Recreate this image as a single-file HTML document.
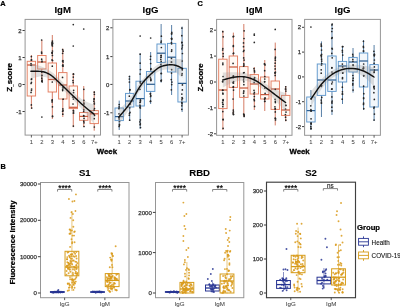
<!DOCTYPE html>
<html><head><meta charset="utf-8"><style>
html,body{margin:0;padding:0;background:#fff;width:400px;height:308px;overflow:hidden}
svg{display:block;font-family:"Liberation Sans", sans-serif;filter:blur(0.35px)}
</style></head><body>
<svg width="400" height="308" viewBox="0 0 400 308" font-family='"Liberation Sans", sans-serif'>
<rect width="400" height="308" fill="#fff"/>
<text x="0.2" y="6.1" font-size="7.4" font-weight="bold" text-anchor="start" fill="#000" stroke="#000" stroke-width="0.22" >A</text>
<text x="197.5" y="6.1" font-size="7.4" font-weight="bold" text-anchor="start" fill="#000" stroke="#000" stroke-width="0.22" >C</text>
<text x="0.5" y="168.8" font-size="7.3" font-weight="bold" text-anchor="start" fill="#000" stroke="#000" stroke-width="0.22" >B</text>
<text x="62.7" y="12.5" font-size="9.6" font-weight="bold" text-anchor="middle" fill="#000" stroke="#000" stroke-width="0.08">IgM</text>
<text x="150.6" y="12.5" font-size="9.6" font-weight="bold" text-anchor="middle" fill="#000" stroke="#000" stroke-width="0.08">IgG</text>
<text x="11.7" y="77.3" font-size="8.0" font-weight="bold" text-anchor="middle" fill="#000" stroke="#000" stroke-width="0.22" transform="rotate(-90 11.7 77.3)" >Z<tspan font-size="4.4" dy="1.0">_</tspan><tspan dy="-1.0">score</tspan></text>
<text x="106.9" y="154.3" font-size="7.8" font-weight="bold" text-anchor="middle" fill="#000" stroke="#000" stroke-width="0.3">Week</text>
<line x1="22.5" y1="30.5" x2="25.1" y2="30.5" stroke="#333" stroke-width="0.95"/>
<text x="21.5" y="32.6" font-size="6.0" font-weight="normal" text-anchor="end" fill="#333" stroke="#333" stroke-width="0.25">2</text>
<line x1="22.5" y1="57.5" x2="25.1" y2="57.5" stroke="#333" stroke-width="0.95"/>
<text x="21.5" y="59.6" font-size="6.0" font-weight="normal" text-anchor="end" fill="#333" stroke="#333" stroke-width="0.25">1</text>
<line x1="22.5" y1="84.5" x2="25.1" y2="84.5" stroke="#333" stroke-width="0.95"/>
<text x="21.5" y="86.6" font-size="6.0" font-weight="normal" text-anchor="end" fill="#333" stroke="#333" stroke-width="0.25">0</text>
<line x1="22.5" y1="111.5" x2="25.1" y2="111.5" stroke="#333" stroke-width="0.95"/>
<text x="21.5" y="113.6" font-size="6.0" font-weight="normal" text-anchor="end" fill="#333" stroke="#333" stroke-width="0.25">-1</text>
<line x1="110.30000000000001" y1="27.8" x2="112.9" y2="27.8" stroke="#333" stroke-width="0.95"/>
<text x="109.30000000000001" y="29.900000000000002" font-size="6.0" font-weight="normal" text-anchor="end" fill="#333" stroke="#333" stroke-width="0.25">2</text>
<line x1="110.30000000000001" y1="56.6" x2="112.9" y2="56.6" stroke="#333" stroke-width="0.95"/>
<text x="109.30000000000001" y="58.7" font-size="6.0" font-weight="normal" text-anchor="end" fill="#333" stroke="#333" stroke-width="0.25">1</text>
<line x1="110.30000000000001" y1="84.4" x2="112.9" y2="84.4" stroke="#333" stroke-width="0.95"/>
<text x="109.30000000000001" y="86.5" font-size="6.0" font-weight="normal" text-anchor="end" fill="#333" stroke="#333" stroke-width="0.25">0</text>
<line x1="110.30000000000001" y1="112.8" x2="112.9" y2="112.8" stroke="#333" stroke-width="0.95"/>
<text x="109.30000000000001" y="114.89999999999999" font-size="6.0" font-weight="normal" text-anchor="end" fill="#333" stroke="#333" stroke-width="0.25">-1</text>
<rect x="25.1" y="19.4" width="75.4" height="115.69999999999999" fill="#fff" stroke="#969696" stroke-width="1"/>
<line x1="31.383333333333336" y1="55" x2="31.383333333333336" y2="61.3" stroke="#c95a3e" stroke-width="0.8"/>
<line x1="31.383333333333336" y1="96" x2="31.383333333333336" y2="109" stroke="#c95a3e" stroke-width="0.8"/>
<rect x="27.183333333333337" y="61.3" width="8.4" height="34.7" fill="#fffaf5" stroke="#dd5f3c" stroke-opacity="0.8" stroke-width="0.95"/>
<line x1="27.183333333333337" y1="65" x2="35.583333333333336" y2="65" stroke="#c95a3e" stroke-width="1.25"/>
<line x1="41.855555555555554" y1="40" x2="41.855555555555554" y2="55.5" stroke="#c95a3e" stroke-width="0.8"/>
<line x1="41.855555555555554" y1="69" x2="41.855555555555554" y2="82" stroke="#c95a3e" stroke-width="0.8"/>
<rect x="37.65555555555555" y="55.5" width="8.4" height="13.5" fill="#fffaf5" stroke="#dd5f3c" stroke-opacity="0.8" stroke-width="0.95"/>
<line x1="37.65555555555555" y1="62" x2="46.05555555555556" y2="62" stroke="#c95a3e" stroke-width="1.25"/>
<line x1="52.32777777777778" y1="35" x2="52.32777777777778" y2="63" stroke="#c95a3e" stroke-width="0.8"/>
<line x1="52.32777777777778" y1="92" x2="52.32777777777778" y2="119" stroke="#c95a3e" stroke-width="0.8"/>
<rect x="48.12777777777778" y="63" width="8.4" height="29" fill="#fffaf5" stroke="#dd5f3c" stroke-opacity="0.8" stroke-width="0.95"/>
<line x1="48.12777777777778" y1="79.5" x2="56.527777777777786" y2="79.5" stroke="#c95a3e" stroke-width="1.25"/>
<line x1="62.800000000000004" y1="48.6" x2="62.800000000000004" y2="72.6" stroke="#c95a3e" stroke-width="0.8"/>
<line x1="62.800000000000004" y1="99" x2="62.800000000000004" y2="117" stroke="#c95a3e" stroke-width="0.8"/>
<rect x="58.6" y="72.6" width="8.4" height="26.400000000000006" fill="#fffaf5" stroke="#dd5f3c" stroke-opacity="0.8" stroke-width="0.95"/>
<line x1="58.6" y1="85" x2="67.0" y2="85" stroke="#c95a3e" stroke-width="1.25"/>
<line x1="73.27222222222223" y1="73" x2="73.27222222222223" y2="86" stroke="#c95a3e" stroke-width="0.8"/>
<line x1="73.27222222222223" y1="108.6" x2="73.27222222222223" y2="127.2" stroke="#c95a3e" stroke-width="0.8"/>
<rect x="69.07222222222222" y="86" width="8.4" height="22.599999999999994" fill="#fffaf5" stroke="#dd5f3c" stroke-opacity="0.8" stroke-width="0.95"/>
<line x1="69.07222222222222" y1="107.3" x2="77.47222222222223" y2="107.3" stroke="#c95a3e" stroke-width="1.25"/>
<line x1="83.74444444444444" y1="86" x2="83.74444444444444" y2="112.5" stroke="#c95a3e" stroke-width="0.8"/>
<line x1="83.74444444444444" y1="120.3" x2="83.74444444444444" y2="126.8" stroke="#c95a3e" stroke-width="0.8"/>
<rect x="79.54444444444444" y="112.5" width="8.4" height="7.799999999999997" fill="#fffaf5" stroke="#dd5f3c" stroke-opacity="0.8" stroke-width="0.95"/>
<line x1="79.54444444444444" y1="116.4" x2="87.94444444444444" y2="116.4" stroke="#c95a3e" stroke-width="1.25"/>
<line x1="94.21666666666667" y1="91" x2="94.21666666666667" y2="110.6" stroke="#c95a3e" stroke-width="0.8"/>
<line x1="94.21666666666667" y1="123.6" x2="94.21666666666667" y2="130.7" stroke="#c95a3e" stroke-width="0.8"/>
<rect x="90.01666666666667" y="110.6" width="8.4" height="13.0" fill="#fffaf5" stroke="#dd5f3c" stroke-opacity="0.8" stroke-width="0.95"/>
<line x1="90.01666666666667" y1="113.8" x2="98.41666666666667" y2="113.8" stroke="#c95a3e" stroke-width="1.25"/>
<circle cx="31.43" cy="79.4" r="0.85" fill="#262626"/>
<circle cx="31.36" cy="104.9" r="0.85" fill="#262626"/>
<circle cx="31.44" cy="82.4" r="0.85" fill="#262626"/>
<circle cx="31.39" cy="65.0" r="0.85" fill="#262626"/>
<circle cx="31.59" cy="89.0" r="0.85" fill="#262626"/>
<circle cx="31.25" cy="60.1" r="0.85" fill="#262626"/>
<circle cx="31.60" cy="59.9" r="0.85" fill="#262626"/>
<circle cx="31.06" cy="92.4" r="0.85" fill="#262626"/>
<circle cx="31.71" cy="108.0" r="0.85" fill="#262626"/>
<circle cx="31.46" cy="90.3" r="0.85" fill="#262626"/>
<circle cx="31.04" cy="63.5" r="0.85" fill="#262626"/>
<circle cx="31.08" cy="83.5" r="0.85" fill="#262626"/>
<circle cx="31.20" cy="65.3" r="0.85" fill="#262626"/>
<circle cx="31.36" cy="56.6" r="0.85" fill="#262626"/>
<circle cx="31.62" cy="78.8" r="0.85" fill="#262626"/>
<circle cx="41.95" cy="61.8" r="0.85" fill="#262626"/>
<circle cx="41.97" cy="61.0" r="0.85" fill="#262626"/>
<circle cx="41.70" cy="59.2" r="0.85" fill="#262626"/>
<circle cx="42.20" cy="81.9" r="0.85" fill="#262626"/>
<circle cx="42.00" cy="75.3" r="0.85" fill="#262626"/>
<circle cx="41.67" cy="53.2" r="0.85" fill="#262626"/>
<circle cx="41.55" cy="52.1" r="0.85" fill="#262626"/>
<circle cx="41.79" cy="72.2" r="0.85" fill="#262626"/>
<circle cx="41.78" cy="75.6" r="0.85" fill="#262626"/>
<circle cx="42.10" cy="80.2" r="0.85" fill="#262626"/>
<circle cx="41.65" cy="40.0" r="0.85" fill="#262626"/>
<circle cx="41.83" cy="78.2" r="0.85" fill="#262626"/>
<circle cx="41.78" cy="81.2" r="0.85" fill="#262626"/>
<circle cx="41.86" cy="117" r="0.85" fill="#2a2a2a"/>
<circle cx="52.42" cy="41.1" r="0.85" fill="#262626"/>
<circle cx="52.17" cy="100.4" r="0.85" fill="#262626"/>
<circle cx="52.21" cy="42.3" r="0.85" fill="#262626"/>
<circle cx="52.51" cy="116.0" r="0.85" fill="#262626"/>
<circle cx="52.15" cy="44.9" r="0.85" fill="#262626"/>
<circle cx="52.02" cy="43.5" r="0.85" fill="#262626"/>
<circle cx="52.10" cy="101.9" r="0.85" fill="#262626"/>
<circle cx="52.29" cy="82.0" r="0.85" fill="#262626"/>
<circle cx="52.49" cy="51.0" r="0.85" fill="#262626"/>
<circle cx="52.43" cy="46.0" r="0.85" fill="#262626"/>
<circle cx="52.27" cy="44.8" r="0.85" fill="#262626"/>
<circle cx="52.17" cy="52.9" r="0.85" fill="#262626"/>
<circle cx="52.54" cy="116.6" r="0.85" fill="#262626"/>
<circle cx="52.60" cy="60.5" r="0.85" fill="#262626"/>
<circle cx="52.25" cy="52.7" r="0.85" fill="#262626"/>
<circle cx="52.43" cy="106.8" r="0.85" fill="#262626"/>
<circle cx="52.67" cy="43.4" r="0.85" fill="#262626"/>
<circle cx="52.16" cy="52.9" r="0.85" fill="#262626"/>
<circle cx="52.21" cy="99.9" r="0.85" fill="#262626"/>
<circle cx="52.03" cy="59.9" r="0.85" fill="#262626"/>
<circle cx="52.39" cy="42.6" r="0.85" fill="#262626"/>
<circle cx="52.40" cy="55.4" r="0.85" fill="#262626"/>
<circle cx="52.30" cy="66.2" r="0.85" fill="#262626"/>
<circle cx="62.79" cy="114.2" r="0.85" fill="#262626"/>
<circle cx="63.06" cy="87.9" r="0.85" fill="#262626"/>
<circle cx="62.56" cy="61.1" r="0.85" fill="#262626"/>
<circle cx="63.02" cy="110.7" r="0.85" fill="#262626"/>
<circle cx="62.58" cy="65.7" r="0.85" fill="#262626"/>
<circle cx="63.11" cy="99.2" r="0.85" fill="#262626"/>
<circle cx="63.12" cy="62.0" r="0.85" fill="#262626"/>
<circle cx="62.87" cy="108.9" r="0.85" fill="#262626"/>
<circle cx="62.52" cy="77.4" r="0.85" fill="#262626"/>
<circle cx="63.12" cy="51.2" r="0.85" fill="#262626"/>
<circle cx="62.94" cy="64.9" r="0.85" fill="#262626"/>
<circle cx="63.03" cy="66.2" r="0.85" fill="#262626"/>
<circle cx="62.66" cy="89.4" r="0.85" fill="#262626"/>
<circle cx="62.95" cy="60.6" r="0.85" fill="#262626"/>
<circle cx="62.61" cy="53.3" r="0.85" fill="#262626"/>
<circle cx="63.05" cy="86.9" r="0.85" fill="#262626"/>
<circle cx="62.65" cy="90.6" r="0.85" fill="#262626"/>
<circle cx="62.59" cy="111.3" r="0.85" fill="#262626"/>
<circle cx="62.64" cy="49.7" r="0.85" fill="#262626"/>
<circle cx="72.96" cy="97.2" r="0.85" fill="#262626"/>
<circle cx="73.18" cy="82.6" r="0.85" fill="#262626"/>
<circle cx="73.01" cy="104.0" r="0.85" fill="#262626"/>
<circle cx="73.55" cy="92.6" r="0.85" fill="#262626"/>
<circle cx="73.38" cy="126.1" r="0.85" fill="#262626"/>
<circle cx="73.33" cy="110.5" r="0.85" fill="#262626"/>
<circle cx="72.95" cy="80.6" r="0.85" fill="#262626"/>
<circle cx="73.56" cy="74.0" r="0.85" fill="#262626"/>
<circle cx="73.60" cy="111.0" r="0.85" fill="#262626"/>
<circle cx="73.37" cy="74.2" r="0.85" fill="#262626"/>
<circle cx="73.43" cy="99.1" r="0.85" fill="#262626"/>
<circle cx="73.62" cy="90.3" r="0.85" fill="#262626"/>
<circle cx="73.30" cy="77.1" r="0.85" fill="#262626"/>
<circle cx="73.55" cy="112.9" r="0.85" fill="#262626"/>
<circle cx="73.41" cy="113.0" r="0.85" fill="#262626"/>
<circle cx="73.27" cy="24.6" r="0.85" fill="#2a2a2a"/>
<circle cx="73.27" cy="46" r="0.85" fill="#2a2a2a"/>
<circle cx="84.03" cy="118.4" r="0.85" fill="#262626"/>
<circle cx="83.87" cy="100.4" r="0.85" fill="#262626"/>
<circle cx="84.00" cy="122.8" r="0.85" fill="#262626"/>
<circle cx="83.95" cy="103.0" r="0.85" fill="#262626"/>
<circle cx="83.80" cy="121.2" r="0.85" fill="#262626"/>
<circle cx="83.66" cy="111.5" r="0.85" fill="#262626"/>
<circle cx="83.82" cy="109.8" r="0.85" fill="#262626"/>
<circle cx="83.84" cy="89.3" r="0.85" fill="#262626"/>
<circle cx="84.01" cy="126.5" r="0.85" fill="#262626"/>
<circle cx="83.67" cy="115.7" r="0.85" fill="#262626"/>
<circle cx="83.80" cy="116.0" r="0.85" fill="#262626"/>
<circle cx="83.98" cy="104.0" r="0.85" fill="#262626"/>
<circle cx="83.74" cy="29" r="0.85" fill="#2a2a2a"/>
<circle cx="94.39" cy="94.3" r="0.85" fill="#262626"/>
<circle cx="94.29" cy="92.2" r="0.85" fill="#262626"/>
<circle cx="94.03" cy="110.1" r="0.85" fill="#262626"/>
<circle cx="94.21" cy="118.7" r="0.85" fill="#262626"/>
<circle cx="94.51" cy="115.4" r="0.85" fill="#262626"/>
<circle cx="93.87" cy="101.2" r="0.85" fill="#262626"/>
<circle cx="94.34" cy="103.0" r="0.85" fill="#262626"/>
<circle cx="93.99" cy="99.0" r="0.85" fill="#262626"/>
<circle cx="94.33" cy="127.0" r="0.85" fill="#262626"/>
<circle cx="94.49" cy="108.5" r="0.85" fill="#262626"/>
<circle cx="94.33" cy="104.0" r="0.85" fill="#262626"/>
<circle cx="94.17" cy="98.9" r="0.85" fill="#262626"/>
<polygon points="30.90,63.80 32.04,64.06 33.62,64.39 35.49,64.79 37.50,65.28 39.52,65.85 41.40,66.50 43.16,67.23 44.93,68.03 46.69,68.91 48.46,69.89 50.23,70.98 52.00,72.20 53.77,73.59 55.53,75.15 57.30,76.82 59.07,78.55 60.83,80.30 62.60,82.00 64.37,83.70 66.14,85.45 67.91,87.21 69.67,88.94 71.44,90.62 73.20,92.20 74.96,93.71 76.71,95.19 78.46,96.61 80.21,97.94 81.96,99.18 83.70,100.30 85.56,101.31 87.56,102.23 89.56,103.06 91.41,103.77 92.97,104.35 94.10,104.80 94.10,123.80 92.97,122.43 91.41,120.52 89.56,118.27 87.56,115.86 85.56,113.47 83.70,111.30 81.96,109.31 80.21,107.34 78.46,105.41 76.71,103.50 74.96,101.63 73.20,99.80 71.44,98.02 69.67,96.29 67.91,94.59 66.14,92.92 64.37,91.26 62.60,89.60 60.83,87.87 59.07,86.06 57.30,84.27 55.53,82.57 53.77,81.05 52.00,79.80 50.23,78.81 48.46,78.01 46.69,77.39 44.93,76.94 43.16,76.65 41.40,76.50 39.52,76.59 37.50,76.94 35.49,77.44 33.62,78.00 32.04,78.48 30.90,78.80" fill="#9a9a9a" opacity="0.3"/>
<path d="M30.90,71.30 L31.59,71.30 L32.56,71.29 L33.69,71.29 L34.88,71.29 L36.00,71.30 L37.07,71.31 L38.18,71.32 L39.28,71.35 L40.37,71.40 L41.40,71.50 L42.35,71.63 L43.23,71.76 L44.10,71.95 L45.00,72.22 L46.00,72.60 L47.13,73.12 L48.35,73.74 L49.60,74.45 L50.84,75.21 L52.00,76.00 L53.05,76.82 L54.04,77.68 L55.00,78.59 L55.98,79.53 L57.00,80.50 L58.00,81.43 L58.96,82.33 L59.97,83.29 L61.15,84.41 L62.60,85.80 L64.40,87.53 L66.48,89.55 L68.73,91.71 L71.01,93.91 L73.20,96.00 L75.31,98.01 L77.41,100.01 L79.51,101.99 L81.61,103.93 L83.70,105.80 L85.95,107.72 L88.37,109.70 L90.69,111.57 L92.69,113.16 L94.10,114.30" fill="none" stroke="#111" stroke-width="1.45" stroke-linejoin="round" stroke-linecap="round"/>
<line x1="31.383333333333336" y1="135.1" x2="31.383333333333336" y2="137.5" stroke="#333" stroke-width="0.8"/>
<text x="31.383333333333336" y="143.5" font-size="5.8" font-weight="normal" text-anchor="middle" fill="#444" stroke="#444" stroke-width="0.05">1</text>
<line x1="41.855555555555554" y1="135.1" x2="41.855555555555554" y2="137.5" stroke="#333" stroke-width="0.8"/>
<text x="41.855555555555554" y="143.5" font-size="5.8" font-weight="normal" text-anchor="middle" fill="#444" stroke="#444" stroke-width="0.05">2</text>
<line x1="52.32777777777778" y1="135.1" x2="52.32777777777778" y2="137.5" stroke="#333" stroke-width="0.8"/>
<text x="52.32777777777778" y="143.5" font-size="5.8" font-weight="normal" text-anchor="middle" fill="#444" stroke="#444" stroke-width="0.05">3</text>
<line x1="62.800000000000004" y1="135.1" x2="62.800000000000004" y2="137.5" stroke="#333" stroke-width="0.8"/>
<text x="62.800000000000004" y="143.5" font-size="5.8" font-weight="normal" text-anchor="middle" fill="#444" stroke="#444" stroke-width="0.05">4</text>
<line x1="73.27222222222223" y1="135.1" x2="73.27222222222223" y2="137.5" stroke="#333" stroke-width="0.8"/>
<text x="73.27222222222223" y="143.5" font-size="5.8" font-weight="normal" text-anchor="middle" fill="#444" stroke="#444" stroke-width="0.05">5</text>
<line x1="83.74444444444444" y1="135.1" x2="83.74444444444444" y2="137.5" stroke="#333" stroke-width="0.8"/>
<text x="83.74444444444444" y="143.5" font-size="5.8" font-weight="normal" text-anchor="middle" fill="#444" stroke="#444" stroke-width="0.05">6</text>
<line x1="94.21666666666667" y1="135.1" x2="94.21666666666667" y2="137.5" stroke="#333" stroke-width="0.8"/>
<text x="94.21666666666667" y="143.5" font-size="5.8" font-weight="normal" text-anchor="middle" fill="#444" stroke="#444" stroke-width="0.05">7+</text>
<rect x="112.9" y="19.4" width="75.5" height="115.69999999999999" fill="#fff" stroke="#969696" stroke-width="1"/>
<line x1="119.19166666666668" y1="100.6" x2="119.19166666666668" y2="108" stroke="#2f5f90" stroke-width="0.8"/>
<line x1="119.19166666666668" y1="120.6" x2="119.19166666666668" y2="130" stroke="#2f5f90" stroke-width="0.8"/>
<rect x="114.99166666666667" y="108" width="8.4" height="12.599999999999994" fill="#f3f7fb" stroke="#3b7fc0" stroke-opacity="0.8" stroke-width="0.95"/>
<line x1="114.99166666666667" y1="116.6" x2="123.39166666666668" y2="116.6" stroke="#2f5f90" stroke-width="1.25"/>
<line x1="129.67777777777778" y1="75.6" x2="129.67777777777778" y2="93.4" stroke="#2f5f90" stroke-width="0.8"/>
<line x1="129.67777777777778" y1="107" x2="129.67777777777778" y2="121" stroke="#2f5f90" stroke-width="0.8"/>
<rect x="125.47777777777777" y="93.4" width="8.4" height="13.599999999999994" fill="#f3f7fb" stroke="#3b7fc0" stroke-opacity="0.8" stroke-width="0.95"/>
<line x1="125.47777777777777" y1="101" x2="133.87777777777777" y2="101" stroke="#2f5f90" stroke-width="1.25"/>
<line x1="140.1638888888889" y1="53.4" x2="140.1638888888889" y2="81.2" stroke="#2f5f90" stroke-width="0.8"/>
<line x1="140.1638888888889" y1="106" x2="140.1638888888889" y2="129" stroke="#2f5f90" stroke-width="0.8"/>
<rect x="135.9638888888889" y="81.2" width="8.4" height="24.799999999999997" fill="#f3f7fb" stroke="#3b7fc0" stroke-opacity="0.8" stroke-width="0.95"/>
<line x1="135.9638888888889" y1="98.6" x2="144.36388888888888" y2="98.6" stroke="#2f5f90" stroke-width="1.25"/>
<line x1="150.65" y1="52" x2="150.65" y2="71.5" stroke="#2f5f90" stroke-width="0.8"/>
<line x1="150.65" y1="91.4" x2="150.65" y2="104" stroke="#2f5f90" stroke-width="0.8"/>
<rect x="146.45000000000002" y="71.5" width="8.4" height="19.900000000000006" fill="#f3f7fb" stroke="#3b7fc0" stroke-opacity="0.8" stroke-width="0.95"/>
<line x1="146.45000000000002" y1="84.3" x2="154.85" y2="84.3" stroke="#2f5f90" stroke-width="1.25"/>
<line x1="161.13611111111112" y1="24" x2="161.13611111111112" y2="44" stroke="#2f5f90" stroke-width="0.8"/>
<line x1="161.13611111111112" y1="62.5" x2="161.13611111111112" y2="82.6" stroke="#2f5f90" stroke-width="0.8"/>
<rect x="156.93611111111113" y="44" width="8.4" height="18.5" fill="#f3f7fb" stroke="#3b7fc0" stroke-opacity="0.8" stroke-width="0.95"/>
<line x1="156.93611111111113" y1="53.2" x2="165.3361111111111" y2="53.2" stroke="#2f5f90" stroke-width="1.25"/>
<line x1="171.6222222222222" y1="25" x2="171.6222222222222" y2="43.4" stroke="#2f5f90" stroke-width="0.8"/>
<line x1="171.6222222222222" y1="72" x2="171.6222222222222" y2="95" stroke="#2f5f90" stroke-width="0.8"/>
<rect x="167.42222222222222" y="43.4" width="8.4" height="28.6" fill="#f3f7fb" stroke="#3b7fc0" stroke-opacity="0.8" stroke-width="0.95"/>
<line x1="167.42222222222222" y1="57.2" x2="175.8222222222222" y2="57.2" stroke="#2f5f90" stroke-width="1.25"/>
<line x1="182.10833333333335" y1="26.6" x2="182.10833333333335" y2="68.3" stroke="#2f5f90" stroke-width="0.8"/>
<line x1="182.10833333333335" y1="102" x2="182.10833333333335" y2="112" stroke="#2f5f90" stroke-width="0.8"/>
<rect x="177.90833333333336" y="68.3" width="8.4" height="33.7" fill="#f3f7fb" stroke="#3b7fc0" stroke-opacity="0.8" stroke-width="0.95"/>
<line x1="177.90833333333336" y1="83.4" x2="186.30833333333334" y2="83.4" stroke="#2f5f90" stroke-width="1.25"/>
<circle cx="119.48" cy="124.3" r="0.85" fill="#262626"/>
<circle cx="119.11" cy="126.5" r="0.85" fill="#262626"/>
<circle cx="119.06" cy="117.7" r="0.85" fill="#262626"/>
<circle cx="119.19" cy="104.6" r="0.85" fill="#262626"/>
<circle cx="119.44" cy="125.2" r="0.85" fill="#262626"/>
<circle cx="119.51" cy="121.5" r="0.85" fill="#262626"/>
<circle cx="118.96" cy="108.7" r="0.85" fill="#262626"/>
<circle cx="119.03" cy="113.8" r="0.85" fill="#262626"/>
<circle cx="119.13" cy="106.9" r="0.85" fill="#262626"/>
<circle cx="119.19" cy="119.0" r="0.85" fill="#262626"/>
<circle cx="129.92" cy="89.9" r="0.85" fill="#262626"/>
<circle cx="129.64" cy="120.2" r="0.85" fill="#262626"/>
<circle cx="129.35" cy="79.0" r="0.85" fill="#262626"/>
<circle cx="129.36" cy="115.2" r="0.85" fill="#262626"/>
<circle cx="129.73" cy="107.8" r="0.85" fill="#262626"/>
<circle cx="129.88" cy="89.6" r="0.85" fill="#262626"/>
<circle cx="129.42" cy="76.5" r="0.85" fill="#262626"/>
<circle cx="129.35" cy="96.2" r="0.85" fill="#262626"/>
<circle cx="129.49" cy="113.3" r="0.85" fill="#262626"/>
<circle cx="129.36" cy="82.0" r="0.85" fill="#262626"/>
<circle cx="129.64" cy="104.2" r="0.85" fill="#262626"/>
<circle cx="129.79" cy="104.2" r="0.85" fill="#262626"/>
<circle cx="130.00" cy="112.3" r="0.85" fill="#262626"/>
<circle cx="139.95" cy="105.1" r="0.85" fill="#262626"/>
<circle cx="139.94" cy="89.3" r="0.85" fill="#262626"/>
<circle cx="140.14" cy="54.2" r="0.85" fill="#262626"/>
<circle cx="139.94" cy="107.4" r="0.85" fill="#262626"/>
<circle cx="140.06" cy="74.0" r="0.85" fill="#262626"/>
<circle cx="140.18" cy="106.1" r="0.85" fill="#262626"/>
<circle cx="140.34" cy="99.9" r="0.85" fill="#262626"/>
<circle cx="140.37" cy="83.1" r="0.85" fill="#262626"/>
<circle cx="139.87" cy="121.9" r="0.85" fill="#262626"/>
<circle cx="140.32" cy="123.9" r="0.85" fill="#262626"/>
<circle cx="140.13" cy="63.2" r="0.85" fill="#262626"/>
<circle cx="140.45" cy="100.7" r="0.85" fill="#262626"/>
<circle cx="140.21" cy="81.9" r="0.85" fill="#262626"/>
<circle cx="140.37" cy="119.9" r="0.85" fill="#262626"/>
<circle cx="140.14" cy="124.8" r="0.85" fill="#262626"/>
<circle cx="139.96" cy="102.6" r="0.85" fill="#262626"/>
<circle cx="140.39" cy="108.0" r="0.85" fill="#262626"/>
<circle cx="140.32" cy="101.9" r="0.85" fill="#262626"/>
<circle cx="140.44" cy="69.5" r="0.85" fill="#262626"/>
<circle cx="140.50" cy="127.5" r="0.85" fill="#262626"/>
<circle cx="140.16" cy="36" r="0.85" fill="#2a2a2a"/>
<circle cx="150.85" cy="79.9" r="0.85" fill="#262626"/>
<circle cx="150.94" cy="68.7" r="0.85" fill="#262626"/>
<circle cx="150.54" cy="96.5" r="0.85" fill="#262626"/>
<circle cx="150.61" cy="56.3" r="0.85" fill="#262626"/>
<circle cx="150.84" cy="80.6" r="0.85" fill="#262626"/>
<circle cx="150.32" cy="77.3" r="0.85" fill="#262626"/>
<circle cx="150.34" cy="94.1" r="0.85" fill="#262626"/>
<circle cx="150.42" cy="93.6" r="0.85" fill="#262626"/>
<circle cx="150.85" cy="69.4" r="0.85" fill="#262626"/>
<circle cx="150.40" cy="59.3" r="0.85" fill="#262626"/>
<circle cx="150.81" cy="78.9" r="0.85" fill="#262626"/>
<circle cx="150.78" cy="95.7" r="0.85" fill="#262626"/>
<circle cx="150.64" cy="101.2" r="0.85" fill="#262626"/>
<circle cx="150.36" cy="101.4" r="0.85" fill="#262626"/>
<circle cx="150.67" cy="63.5" r="0.85" fill="#262626"/>
<circle cx="150.65" cy="38" r="0.85" fill="#2a2a2a"/>
<circle cx="161.30" cy="41.0" r="0.85" fill="#262626"/>
<circle cx="161.15" cy="61.4" r="0.85" fill="#262626"/>
<circle cx="161.18" cy="73.4" r="0.85" fill="#262626"/>
<circle cx="161.05" cy="42.3" r="0.85" fill="#262626"/>
<circle cx="161.42" cy="73.5" r="0.85" fill="#262626"/>
<circle cx="161.38" cy="36.2" r="0.85" fill="#262626"/>
<circle cx="161.15" cy="80.8" r="0.85" fill="#262626"/>
<circle cx="160.93" cy="57.6" r="0.85" fill="#262626"/>
<circle cx="161.14" cy="55.4" r="0.85" fill="#262626"/>
<circle cx="160.81" cy="59.5" r="0.85" fill="#262626"/>
<circle cx="161.15" cy="80.8" r="0.85" fill="#262626"/>
<circle cx="161.35" cy="47.5" r="0.85" fill="#262626"/>
<circle cx="161.13" cy="57.0" r="0.85" fill="#262626"/>
<circle cx="160.83" cy="64.5" r="0.85" fill="#262626"/>
<circle cx="161.08" cy="55.6" r="0.85" fill="#262626"/>
<circle cx="161.43" cy="80.1" r="0.85" fill="#262626"/>
<circle cx="171.60" cy="43.8" r="0.85" fill="#262626"/>
<circle cx="171.58" cy="33.9" r="0.85" fill="#262626"/>
<circle cx="171.90" cy="82.1" r="0.85" fill="#262626"/>
<circle cx="171.49" cy="58.4" r="0.85" fill="#262626"/>
<circle cx="171.70" cy="38.4" r="0.85" fill="#262626"/>
<circle cx="171.36" cy="89.8" r="0.85" fill="#262626"/>
<circle cx="171.29" cy="79.6" r="0.85" fill="#262626"/>
<circle cx="171.43" cy="38.6" r="0.85" fill="#262626"/>
<circle cx="171.50" cy="73.1" r="0.85" fill="#262626"/>
<circle cx="171.71" cy="49.9" r="0.85" fill="#262626"/>
<circle cx="171.78" cy="32.3" r="0.85" fill="#262626"/>
<circle cx="171.63" cy="33.6" r="0.85" fill="#262626"/>
<circle cx="171.41" cy="42.5" r="0.85" fill="#262626"/>
<circle cx="171.58" cy="62.1" r="0.85" fill="#262626"/>
<circle cx="171.56" cy="51.3" r="0.85" fill="#262626"/>
<circle cx="171.38" cy="62.1" r="0.85" fill="#262626"/>
<circle cx="171.71" cy="39.3" r="0.85" fill="#262626"/>
<circle cx="171.64" cy="69.7" r="0.85" fill="#262626"/>
<circle cx="171.70" cy="84.6" r="0.85" fill="#262626"/>
<circle cx="181.92" cy="99.8" r="0.85" fill="#262626"/>
<circle cx="182.33" cy="89.9" r="0.85" fill="#262626"/>
<circle cx="181.98" cy="103.7" r="0.85" fill="#262626"/>
<circle cx="182.40" cy="53.5" r="0.85" fill="#262626"/>
<circle cx="182.46" cy="45.2" r="0.85" fill="#262626"/>
<circle cx="181.85" cy="102.4" r="0.85" fill="#262626"/>
<circle cx="182.27" cy="47.0" r="0.85" fill="#262626"/>
<circle cx="181.83" cy="48.8" r="0.85" fill="#262626"/>
<circle cx="182.05" cy="97.7" r="0.85" fill="#262626"/>
<circle cx="181.85" cy="94.1" r="0.85" fill="#262626"/>
<circle cx="182.24" cy="61.0" r="0.85" fill="#262626"/>
<circle cx="181.90" cy="28.1" r="0.85" fill="#262626"/>
<circle cx="182.40" cy="84.9" r="0.85" fill="#262626"/>
<circle cx="181.84" cy="109.3" r="0.85" fill="#262626"/>
<circle cx="182.29" cy="69.8" r="0.85" fill="#262626"/>
<circle cx="182.24" cy="69.5" r="0.85" fill="#262626"/>
<circle cx="181.81" cy="42.7" r="0.85" fill="#262626"/>
<circle cx="181.78" cy="35.7" r="0.85" fill="#262626"/>
<circle cx="182.12" cy="73.7" r="0.85" fill="#262626"/>
<circle cx="181.86" cy="75.2" r="0.85" fill="#262626"/>
<circle cx="181.90" cy="42.4" r="0.85" fill="#262626"/>
<circle cx="182.45" cy="98.4" r="0.85" fill="#262626"/>
<circle cx="181.83" cy="105.8" r="0.85" fill="#262626"/>
<polygon points="118.90,109.50 120.05,108.42 121.65,106.99 123.54,105.27 125.58,103.32 127.62,101.21 129.50,99.00 131.26,96.56 133.03,93.82 134.79,90.91 136.54,87.99 138.28,85.21 140.00,82.70 141.70,80.47 143.37,78.38 145.03,76.43 146.69,74.60 148.34,72.86 150.00,71.20 151.64,69.62 153.26,68.12 154.88,66.73 156.52,65.43 158.22,64.26 160.00,63.20 161.90,62.27 163.90,61.46 165.96,60.77 168.03,60.18 170.06,59.69 172.00,59.30 173.97,59.04 176.03,58.92 178.05,58.91 179.90,58.94 181.46,58.99 182.60,59.00 182.60,78.00 181.46,77.07 179.90,75.70 178.05,74.12 176.03,72.54 173.97,71.20 172.00,70.30 170.06,69.82 168.03,69.58 165.96,69.57 163.90,69.77 161.90,70.19 160.00,70.80 158.22,71.66 156.52,72.78 154.88,74.11 153.26,75.60 151.64,77.18 150.00,78.80 148.34,80.43 146.69,82.11 145.03,83.88 143.37,85.80 141.70,87.93 140.00,90.30 138.28,93.04 136.54,96.12 134.79,99.40 133.03,102.74 131.26,105.99 129.50,109.00 127.62,111.95 125.58,114.98 123.54,117.92 121.65,120.60 120.05,122.85 118.90,124.50" fill="#9a9a9a" opacity="0.3"/>
<path d="M118.90,117.00 L119.59,116.20 L120.55,115.08 L121.69,113.76 L122.87,112.36 L124.00,111.00 L125.07,109.70 L126.17,108.37 L127.28,106.99 L128.39,105.54 L129.50,104.00 L130.61,102.32 L131.72,100.52 L132.84,98.66 L133.93,96.80 L135.00,95.00 L136.03,93.24 L137.04,91.47 L138.02,89.73 L139.01,88.06 L140.00,86.50 L141.00,85.05 L142.00,83.68 L143.00,82.40 L144.00,81.17 L145.00,80.00 L146.00,78.90 L147.00,77.87 L148.00,76.89 L149.00,75.94 L150.00,75.00 L151.00,74.05 L152.00,73.12 L153.00,72.20 L154.00,71.33 L155.00,70.50 L155.98,69.71 L156.95,68.95 L157.93,68.23 L158.94,67.58 L160.00,67.00 L161.14,66.51 L162.33,66.09 L163.55,65.74 L164.78,65.44 L166.00,65.20 L167.22,65.01 L168.45,64.87 L169.67,64.79 L170.86,64.77 L172.00,64.80 L173.05,64.88 L174.04,65.02 L175.00,65.21 L175.98,65.47 L177.00,65.80 L178.17,66.27 L179.47,66.89 L180.73,67.53 L181.83,68.11 L182.60,68.50" fill="none" stroke="#111" stroke-width="1.45" stroke-linejoin="round" stroke-linecap="round"/>
<line x1="119.19166666666668" y1="135.1" x2="119.19166666666668" y2="137.5" stroke="#333" stroke-width="0.8"/>
<text x="119.19166666666668" y="143.5" font-size="5.8" font-weight="normal" text-anchor="middle" fill="#444" stroke="#444" stroke-width="0.05">1</text>
<line x1="129.67777777777778" y1="135.1" x2="129.67777777777778" y2="137.5" stroke="#333" stroke-width="0.8"/>
<text x="129.67777777777778" y="143.5" font-size="5.8" font-weight="normal" text-anchor="middle" fill="#444" stroke="#444" stroke-width="0.05">2</text>
<line x1="140.1638888888889" y1="135.1" x2="140.1638888888889" y2="137.5" stroke="#333" stroke-width="0.8"/>
<text x="140.1638888888889" y="143.5" font-size="5.8" font-weight="normal" text-anchor="middle" fill="#444" stroke="#444" stroke-width="0.05">3</text>
<line x1="150.65" y1="135.1" x2="150.65" y2="137.5" stroke="#333" stroke-width="0.8"/>
<text x="150.65" y="143.5" font-size="5.8" font-weight="normal" text-anchor="middle" fill="#444" stroke="#444" stroke-width="0.05">4</text>
<line x1="161.13611111111112" y1="135.1" x2="161.13611111111112" y2="137.5" stroke="#333" stroke-width="0.8"/>
<text x="161.13611111111112" y="143.5" font-size="5.8" font-weight="normal" text-anchor="middle" fill="#444" stroke="#444" stroke-width="0.05">5</text>
<line x1="171.6222222222222" y1="135.1" x2="171.6222222222222" y2="137.5" stroke="#333" stroke-width="0.8"/>
<text x="171.6222222222222" y="143.5" font-size="5.8" font-weight="normal" text-anchor="middle" fill="#444" stroke="#444" stroke-width="0.05">6</text>
<line x1="182.10833333333335" y1="135.1" x2="182.10833333333335" y2="137.5" stroke="#333" stroke-width="0.8"/>
<text x="182.10833333333335" y="143.5" font-size="5.8" font-weight="normal" text-anchor="middle" fill="#444" stroke="#444" stroke-width="0.05">7+</text>
<text x="254.3" y="12.5" font-size="9.6" font-weight="bold" text-anchor="middle" fill="#000" stroke="#000" stroke-width="0.08">IgM</text>
<text x="342.5" y="12.5" font-size="9.6" font-weight="bold" text-anchor="middle" fill="#000" stroke="#000" stroke-width="0.08">IgG</text>
<text x="203.1" y="77.4" font-size="7.8" font-weight="bold" text-anchor="middle" fill="#000" stroke="#000" stroke-width="0.22" transform="rotate(-90 203.1 77.4)" >Z-score</text>
<text x="299.6" y="154.3" font-size="7.8" font-weight="bold" text-anchor="middle" fill="#000" stroke="#000" stroke-width="0.3">Week</text>
<line x1="214.0" y1="30.2" x2="216.6" y2="30.2" stroke="#333" stroke-width="0.95"/>
<text x="213.0" y="32.3" font-size="6.0" font-weight="normal" text-anchor="end" fill="#333" stroke="#333" stroke-width="0.25">2</text>
<line x1="214.0" y1="56.1" x2="216.6" y2="56.1" stroke="#333" stroke-width="0.95"/>
<text x="213.0" y="58.2" font-size="6.0" font-weight="normal" text-anchor="end" fill="#333" stroke="#333" stroke-width="0.25">1</text>
<line x1="214.0" y1="82.0" x2="216.6" y2="82.0" stroke="#333" stroke-width="0.95"/>
<text x="213.0" y="84.1" font-size="6.0" font-weight="normal" text-anchor="end" fill="#333" stroke="#333" stroke-width="0.25">0</text>
<line x1="214.0" y1="107.9" x2="216.6" y2="107.9" stroke="#333" stroke-width="0.95"/>
<text x="213.0" y="110.0" font-size="6.0" font-weight="normal" text-anchor="end" fill="#333" stroke="#333" stroke-width="0.25">-1</text>
<line x1="214.0" y1="133.8" x2="216.6" y2="133.8" stroke="#333" stroke-width="0.95"/>
<text x="213.0" y="135.9" font-size="6.0" font-weight="normal" text-anchor="end" fill="#333" stroke="#333" stroke-width="0.25">-2</text>
<line x1="302.0" y1="27.3" x2="304.6" y2="27.3" stroke="#333" stroke-width="0.95"/>
<text x="301.0" y="29.400000000000002" font-size="6.0" font-weight="normal" text-anchor="end" fill="#333" stroke="#333" stroke-width="0.25">2</text>
<line x1="302.0" y1="52.1" x2="304.6" y2="52.1" stroke="#333" stroke-width="0.95"/>
<text x="301.0" y="54.2" font-size="6.0" font-weight="normal" text-anchor="end" fill="#333" stroke="#333" stroke-width="0.25">1</text>
<line x1="302.0" y1="76.9" x2="304.6" y2="76.9" stroke="#333" stroke-width="0.95"/>
<text x="301.0" y="79.0" font-size="6.0" font-weight="normal" text-anchor="end" fill="#333" stroke="#333" stroke-width="0.25">0</text>
<line x1="302.0" y1="101.7" x2="304.6" y2="101.7" stroke="#333" stroke-width="0.95"/>
<text x="301.0" y="103.8" font-size="6.0" font-weight="normal" text-anchor="end" fill="#333" stroke="#333" stroke-width="0.25">-1</text>
<line x1="302.0" y1="126.6" x2="304.6" y2="126.6" stroke="#333" stroke-width="0.95"/>
<text x="301.0" y="128.7" font-size="6.0" font-weight="normal" text-anchor="end" fill="#333" stroke="#333" stroke-width="0.25">-2</text>
<rect x="216.6" y="19.4" width="75.4" height="115.9" fill="#fff" stroke="#969696" stroke-width="1"/>
<line x1="222.88333333333333" y1="30.6" x2="222.88333333333333" y2="59.2" stroke="#c95a3e" stroke-width="0.8"/>
<line x1="222.88333333333333" y1="108.6" x2="222.88333333333333" y2="130" stroke="#c95a3e" stroke-width="0.8"/>
<rect x="218.68333333333334" y="59.2" width="8.4" height="49.39999999999999" fill="#fffaf5" stroke="#dd5f3c" stroke-opacity="0.8" stroke-width="0.95"/>
<line x1="218.68333333333334" y1="90" x2="227.08333333333331" y2="90" stroke="#c95a3e" stroke-width="1.25"/>
<line x1="233.35555555555555" y1="32.6" x2="233.35555555555555" y2="56" stroke="#c95a3e" stroke-width="0.8"/>
<line x1="233.35555555555555" y1="87.4" x2="233.35555555555555" y2="114.6" stroke="#c95a3e" stroke-width="0.8"/>
<rect x="229.15555555555557" y="56" width="8.4" height="31.400000000000006" fill="#fffaf5" stroke="#dd5f3c" stroke-opacity="0.8" stroke-width="0.95"/>
<line x1="229.15555555555557" y1="67" x2="237.55555555555554" y2="67" stroke="#c95a3e" stroke-width="1.25"/>
<line x1="243.82777777777778" y1="24" x2="243.82777777777778" y2="66.6" stroke="#c95a3e" stroke-width="0.8"/>
<line x1="243.82777777777778" y1="97.4" x2="243.82777777777778" y2="116.6" stroke="#c95a3e" stroke-width="0.8"/>
<rect x="239.6277777777778" y="66.6" width="8.4" height="30.80000000000001" fill="#fffaf5" stroke="#dd5f3c" stroke-opacity="0.8" stroke-width="0.95"/>
<line x1="239.6277777777778" y1="88" x2="248.02777777777777" y2="88" stroke="#c95a3e" stroke-width="1.25"/>
<line x1="254.3" y1="67" x2="254.3" y2="74.6" stroke="#c95a3e" stroke-width="0.8"/>
<line x1="254.3" y1="94" x2="254.3" y2="110" stroke="#c95a3e" stroke-width="0.8"/>
<rect x="250.10000000000002" y="74.6" width="8.4" height="19.400000000000006" fill="#fffaf5" stroke="#dd5f3c" stroke-opacity="0.8" stroke-width="0.95"/>
<line x1="250.10000000000002" y1="84" x2="258.5" y2="84" stroke="#c95a3e" stroke-width="1.25"/>
<line x1="264.77222222222224" y1="60" x2="264.77222222222224" y2="77" stroke="#c95a3e" stroke-width="0.8"/>
<line x1="264.77222222222224" y1="99" x2="264.77222222222224" y2="111" stroke="#c95a3e" stroke-width="0.8"/>
<rect x="260.57222222222225" y="77" width="8.4" height="22" fill="#fffaf5" stroke="#dd5f3c" stroke-opacity="0.8" stroke-width="0.95"/>
<line x1="260.57222222222225" y1="94.6" x2="268.97222222222223" y2="94.6" stroke="#c95a3e" stroke-width="1.25"/>
<line x1="275.2444444444444" y1="42.6" x2="275.2444444444444" y2="81" stroke="#c95a3e" stroke-width="0.8"/>
<line x1="275.2444444444444" y1="109.4" x2="275.2444444444444" y2="125.4" stroke="#c95a3e" stroke-width="0.8"/>
<rect x="271.0444444444444" y="81" width="8.4" height="28.400000000000006" fill="#fffaf5" stroke="#dd5f3c" stroke-opacity="0.8" stroke-width="0.95"/>
<line x1="271.0444444444444" y1="89" x2="279.4444444444444" y2="89" stroke="#c95a3e" stroke-width="1.25"/>
<line x1="285.7166666666667" y1="86" x2="285.7166666666667" y2="95.4" stroke="#c95a3e" stroke-width="0.8"/>
<line x1="285.7166666666667" y1="115.4" x2="285.7166666666667" y2="121.4" stroke="#c95a3e" stroke-width="0.8"/>
<rect x="281.5166666666667" y="95.4" width="8.4" height="20.0" fill="#fffaf5" stroke="#dd5f3c" stroke-opacity="0.8" stroke-width="0.95"/>
<line x1="281.5166666666667" y1="110" x2="289.9166666666667" y2="110" stroke="#c95a3e" stroke-width="1.25"/>
<circle cx="223.20" cy="36.8" r="0.85" fill="#262626"/>
<circle cx="223.07" cy="76.5" r="0.85" fill="#262626"/>
<circle cx="222.86" cy="63.1" r="0.85" fill="#262626"/>
<circle cx="222.83" cy="81.8" r="0.85" fill="#262626"/>
<circle cx="222.54" cy="90.3" r="0.85" fill="#262626"/>
<circle cx="223.12" cy="100.3" r="0.85" fill="#262626"/>
<circle cx="222.85" cy="48.6" r="0.85" fill="#262626"/>
<circle cx="222.82" cy="104.1" r="0.85" fill="#262626"/>
<circle cx="222.65" cy="50.0" r="0.85" fill="#262626"/>
<circle cx="222.54" cy="81.5" r="0.85" fill="#262626"/>
<circle cx="223.09" cy="119.4" r="0.85" fill="#262626"/>
<circle cx="223.14" cy="100.6" r="0.85" fill="#262626"/>
<circle cx="222.82" cy="93.2" r="0.85" fill="#262626"/>
<circle cx="222.89" cy="90.2" r="0.85" fill="#262626"/>
<circle cx="223.10" cy="128.3" r="0.85" fill="#262626"/>
<circle cx="223.17" cy="56.3" r="0.85" fill="#262626"/>
<circle cx="223.08" cy="104.6" r="0.85" fill="#262626"/>
<circle cx="222.82" cy="111.6" r="0.85" fill="#262626"/>
<circle cx="223.15" cy="119.7" r="0.85" fill="#262626"/>
<circle cx="223.07" cy="99.7" r="0.85" fill="#262626"/>
<circle cx="222.82" cy="106.7" r="0.85" fill="#262626"/>
<circle cx="222.58" cy="102.4" r="0.85" fill="#262626"/>
<circle cx="222.86" cy="64.6" r="0.85" fill="#262626"/>
<circle cx="222.78" cy="31.7" r="0.85" fill="#262626"/>
<circle cx="222.97" cy="94.1" r="0.85" fill="#262626"/>
<circle cx="223.19" cy="53.7" r="0.85" fill="#262626"/>
<circle cx="233.24" cy="87.2" r="0.85" fill="#262626"/>
<circle cx="233.40" cy="86.7" r="0.85" fill="#262626"/>
<circle cx="233.28" cy="76.3" r="0.85" fill="#262626"/>
<circle cx="233.46" cy="114.6" r="0.85" fill="#262626"/>
<circle cx="233.54" cy="90.1" r="0.85" fill="#262626"/>
<circle cx="233.02" cy="113.0" r="0.85" fill="#262626"/>
<circle cx="233.52" cy="83.1" r="0.85" fill="#262626"/>
<circle cx="233.29" cy="53.6" r="0.85" fill="#262626"/>
<circle cx="233.14" cy="36.7" r="0.85" fill="#262626"/>
<circle cx="233.07" cy="63.4" r="0.85" fill="#262626"/>
<circle cx="233.64" cy="53.2" r="0.85" fill="#262626"/>
<circle cx="233.36" cy="77.7" r="0.85" fill="#262626"/>
<circle cx="233.40" cy="111.9" r="0.85" fill="#262626"/>
<circle cx="233.45" cy="114.2" r="0.85" fill="#262626"/>
<circle cx="233.06" cy="99.0" r="0.85" fill="#262626"/>
<circle cx="233.54" cy="81.6" r="0.85" fill="#262626"/>
<circle cx="233.66" cy="36.3" r="0.85" fill="#262626"/>
<circle cx="233.34" cy="45.7" r="0.85" fill="#262626"/>
<circle cx="233.35" cy="46.5" r="0.85" fill="#262626"/>
<circle cx="233.05" cy="82.7" r="0.85" fill="#262626"/>
<circle cx="233.30" cy="110.1" r="0.85" fill="#262626"/>
<circle cx="233.42" cy="75.8" r="0.85" fill="#262626"/>
<circle cx="243.68" cy="57.9" r="0.85" fill="#262626"/>
<circle cx="243.87" cy="84.7" r="0.85" fill="#262626"/>
<circle cx="243.98" cy="50.3" r="0.85" fill="#262626"/>
<circle cx="243.49" cy="51.4" r="0.85" fill="#262626"/>
<circle cx="243.51" cy="46.7" r="0.85" fill="#262626"/>
<circle cx="244.01" cy="38.5" r="0.85" fill="#262626"/>
<circle cx="244.11" cy="60.1" r="0.85" fill="#262626"/>
<circle cx="243.51" cy="93.3" r="0.85" fill="#262626"/>
<circle cx="244.14" cy="115.6" r="0.85" fill="#262626"/>
<circle cx="244.11" cy="30.8" r="0.85" fill="#262626"/>
<circle cx="243.81" cy="63.8" r="0.85" fill="#262626"/>
<circle cx="243.65" cy="114.1" r="0.85" fill="#262626"/>
<circle cx="244.13" cy="72.5" r="0.85" fill="#262626"/>
<circle cx="243.81" cy="90.9" r="0.85" fill="#262626"/>
<circle cx="244.05" cy="114.6" r="0.85" fill="#262626"/>
<circle cx="243.56" cy="79.9" r="0.85" fill="#262626"/>
<circle cx="243.80" cy="81.8" r="0.85" fill="#262626"/>
<circle cx="243.51" cy="42.9" r="0.85" fill="#262626"/>
<circle cx="243.56" cy="72.9" r="0.85" fill="#262626"/>
<circle cx="243.95" cy="65.0" r="0.85" fill="#262626"/>
<circle cx="243.66" cy="66.2" r="0.85" fill="#262626"/>
<circle cx="243.77" cy="77.9" r="0.85" fill="#262626"/>
<circle cx="243.85" cy="96.0" r="0.85" fill="#262626"/>
<circle cx="244.14" cy="116.4" r="0.85" fill="#262626"/>
<circle cx="243.64" cy="92.0" r="0.85" fill="#262626"/>
<circle cx="254.57" cy="71.9" r="0.85" fill="#262626"/>
<circle cx="254.39" cy="100.7" r="0.85" fill="#262626"/>
<circle cx="254.14" cy="82.4" r="0.85" fill="#262626"/>
<circle cx="254.35" cy="96.5" r="0.85" fill="#262626"/>
<circle cx="254.39" cy="92.4" r="0.85" fill="#262626"/>
<circle cx="254.08" cy="99.4" r="0.85" fill="#262626"/>
<circle cx="254.64" cy="77.7" r="0.85" fill="#262626"/>
<circle cx="254.57" cy="106.4" r="0.85" fill="#262626"/>
<circle cx="253.99" cy="68.7" r="0.85" fill="#262626"/>
<circle cx="254.25" cy="78.7" r="0.85" fill="#262626"/>
<circle cx="254.02" cy="93.8" r="0.85" fill="#262626"/>
<circle cx="254.00" cy="90.3" r="0.85" fill="#262626"/>
<circle cx="254.42" cy="70.7" r="0.85" fill="#262626"/>
<circle cx="254.30" cy="34" r="0.85" fill="#2a2a2a"/>
<circle cx="254.30" cy="35.2" r="0.85" fill="#2a2a2a"/>
<circle cx="254.30" cy="42.4" r="0.85" fill="#2a2a2a"/>
<circle cx="264.86" cy="88.1" r="0.85" fill="#262626"/>
<circle cx="264.76" cy="79.0" r="0.85" fill="#262626"/>
<circle cx="264.66" cy="70.7" r="0.85" fill="#262626"/>
<circle cx="265.01" cy="98.0" r="0.85" fill="#262626"/>
<circle cx="264.51" cy="63.8" r="0.85" fill="#262626"/>
<circle cx="264.86" cy="101.3" r="0.85" fill="#262626"/>
<circle cx="264.57" cy="99.2" r="0.85" fill="#262626"/>
<circle cx="264.60" cy="81.6" r="0.85" fill="#262626"/>
<circle cx="264.68" cy="101.3" r="0.85" fill="#262626"/>
<circle cx="265.11" cy="93.3" r="0.85" fill="#262626"/>
<circle cx="264.81" cy="76.6" r="0.85" fill="#262626"/>
<circle cx="265.07" cy="98.1" r="0.85" fill="#262626"/>
<circle cx="264.68" cy="81.8" r="0.85" fill="#262626"/>
<circle cx="265.03" cy="64.9" r="0.85" fill="#262626"/>
<circle cx="264.48" cy="64.0" r="0.85" fill="#262626"/>
<circle cx="275.23" cy="89.3" r="0.85" fill="#262626"/>
<circle cx="275.10" cy="99.3" r="0.85" fill="#262626"/>
<circle cx="274.95" cy="106.8" r="0.85" fill="#262626"/>
<circle cx="275.36" cy="60.3" r="0.85" fill="#262626"/>
<circle cx="275.11" cy="49.4" r="0.85" fill="#262626"/>
<circle cx="275.38" cy="102.6" r="0.85" fill="#262626"/>
<circle cx="274.99" cy="66.0" r="0.85" fill="#262626"/>
<circle cx="275.40" cy="72.2" r="0.85" fill="#262626"/>
<circle cx="274.98" cy="72.9" r="0.85" fill="#262626"/>
<circle cx="275.29" cy="101.3" r="0.85" fill="#262626"/>
<circle cx="275.55" cy="118.7" r="0.85" fill="#262626"/>
<circle cx="275.20" cy="118.2" r="0.85" fill="#262626"/>
<circle cx="275.11" cy="109.1" r="0.85" fill="#262626"/>
<circle cx="275.17" cy="68.9" r="0.85" fill="#262626"/>
<circle cx="275.52" cy="120.0" r="0.85" fill="#262626"/>
<circle cx="275.15" cy="63.2" r="0.85" fill="#262626"/>
<circle cx="275.15" cy="72.9" r="0.85" fill="#262626"/>
<circle cx="275.17" cy="75.4" r="0.85" fill="#262626"/>
<circle cx="275.29" cy="58.7" r="0.85" fill="#262626"/>
<circle cx="275.27" cy="108.6" r="0.85" fill="#262626"/>
<circle cx="275.29" cy="111.9" r="0.85" fill="#262626"/>
<circle cx="275.43" cy="57.2" r="0.85" fill="#262626"/>
<circle cx="275.24" cy="29.4" r="0.85" fill="#2a2a2a"/>
<circle cx="285.56" cy="117.2" r="0.85" fill="#262626"/>
<circle cx="285.73" cy="86.8" r="0.85" fill="#262626"/>
<circle cx="285.76" cy="105.3" r="0.85" fill="#262626"/>
<circle cx="285.82" cy="120.2" r="0.85" fill="#262626"/>
<circle cx="285.41" cy="114.5" r="0.85" fill="#262626"/>
<circle cx="285.92" cy="105.4" r="0.85" fill="#262626"/>
<circle cx="285.42" cy="89.0" r="0.85" fill="#262626"/>
<circle cx="286.00" cy="112.1" r="0.85" fill="#262626"/>
<circle cx="285.81" cy="89.0" r="0.85" fill="#262626"/>
<circle cx="285.89" cy="91.1" r="0.85" fill="#262626"/>
<circle cx="285.54" cy="109.0" r="0.85" fill="#262626"/>
<polygon points="222.80,72.50 223.95,72.47 225.55,72.41 227.44,72.36 229.47,72.31 231.51,72.28 233.40,72.30 235.17,72.34 236.94,72.37 238.71,72.44 240.47,72.55 242.24,72.73 244.00,73.00 245.76,73.34 247.51,73.74 249.26,74.21 251.00,74.76 252.75,75.42 254.50,76.20 256.25,77.15 258.00,78.28 259.75,79.51 261.50,80.78 263.25,82.03 265.00,83.20 266.75,84.32 268.51,85.46 270.28,86.57 272.03,87.63 273.77,88.62 275.50,89.50 277.32,90.29 279.27,91.00 281.21,91.64 283.00,92.20 284.51,92.65 285.60,93.00 285.60,112.00 284.51,110.73 283.00,108.95 281.21,106.86 279.27,104.63 277.32,102.45 275.50,100.50 273.77,98.75 272.03,97.03 270.28,95.37 268.51,93.77 266.75,92.24 265.00,90.80 263.25,89.43 261.50,88.13 259.75,86.89 258.00,85.75 256.25,84.72 254.50,83.80 252.75,82.99 251.00,82.27 249.26,81.66 247.51,81.16 245.76,80.81 244.00,80.60 242.24,80.56 240.47,80.67 238.71,80.93 236.94,81.29 235.17,81.76 233.40,82.30 231.51,83.02 229.47,83.97 227.44,85.01 225.55,86.02 223.95,86.89 222.80,87.50" fill="#9a9a9a" opacity="0.3"/>
<path d="M222.80,80.00 L224.24,79.60 L226.28,79.01 L228.65,78.35 L231.11,77.74 L233.40,77.30 L235.52,77.00 L237.64,76.76 L239.77,76.63 L241.89,76.63 L244.00,76.80 L246.11,77.14 L248.21,77.63 L250.30,78.27 L252.40,79.06 L254.50,80.00 L256.60,81.14 L258.70,82.48 L260.80,83.95 L262.90,85.48 L265.00,87.00 L267.11,88.54 L269.22,90.15 L271.33,91.79 L273.43,93.42 L275.50,95.00 L277.71,96.65 L280.05,98.40 L282.31,100.06 L284.23,101.49 L285.60,102.50" fill="none" stroke="#111" stroke-width="1.45" stroke-linejoin="round" stroke-linecap="round"/>
<line x1="222.88333333333333" y1="135.3" x2="222.88333333333333" y2="137.70000000000002" stroke="#333" stroke-width="0.8"/>
<text x="222.88333333333333" y="143.70000000000002" font-size="5.8" font-weight="normal" text-anchor="middle" fill="#444" stroke="#444" stroke-width="0.05">1</text>
<line x1="233.35555555555555" y1="135.3" x2="233.35555555555555" y2="137.70000000000002" stroke="#333" stroke-width="0.8"/>
<text x="233.35555555555555" y="143.70000000000002" font-size="5.8" font-weight="normal" text-anchor="middle" fill="#444" stroke="#444" stroke-width="0.05">2</text>
<line x1="243.82777777777778" y1="135.3" x2="243.82777777777778" y2="137.70000000000002" stroke="#333" stroke-width="0.8"/>
<text x="243.82777777777778" y="143.70000000000002" font-size="5.8" font-weight="normal" text-anchor="middle" fill="#444" stroke="#444" stroke-width="0.05">3</text>
<line x1="254.3" y1="135.3" x2="254.3" y2="137.70000000000002" stroke="#333" stroke-width="0.8"/>
<text x="254.3" y="143.70000000000002" font-size="5.8" font-weight="normal" text-anchor="middle" fill="#444" stroke="#444" stroke-width="0.05">4</text>
<line x1="264.77222222222224" y1="135.3" x2="264.77222222222224" y2="137.70000000000002" stroke="#333" stroke-width="0.8"/>
<text x="264.77222222222224" y="143.70000000000002" font-size="5.8" font-weight="normal" text-anchor="middle" fill="#444" stroke="#444" stroke-width="0.05">5</text>
<line x1="275.2444444444444" y1="135.3" x2="275.2444444444444" y2="137.70000000000002" stroke="#333" stroke-width="0.8"/>
<text x="275.2444444444444" y="143.70000000000002" font-size="5.8" font-weight="normal" text-anchor="middle" fill="#444" stroke="#444" stroke-width="0.05">6</text>
<line x1="285.7166666666667" y1="135.3" x2="285.7166666666667" y2="137.70000000000002" stroke="#333" stroke-width="0.8"/>
<text x="285.7166666666667" y="143.70000000000002" font-size="5.8" font-weight="normal" text-anchor="middle" fill="#444" stroke="#444" stroke-width="0.05">7+</text>
<rect x="304.6" y="19.4" width="75.79999999999995" height="115.9" fill="#fff" stroke="#969696" stroke-width="1"/>
<line x1="310.9166666666667" y1="90" x2="310.9166666666667" y2="97" stroke="#2f5f90" stroke-width="0.8"/>
<line x1="310.9166666666667" y1="122" x2="310.9166666666667" y2="130" stroke="#2f5f90" stroke-width="0.8"/>
<rect x="306.7166666666667" y="97" width="8.4" height="25" fill="#f3f7fb" stroke="#3b7fc0" stroke-opacity="0.8" stroke-width="0.95"/>
<line x1="306.7166666666667" y1="110.6" x2="315.1166666666667" y2="110.6" stroke="#2f5f90" stroke-width="1.25"/>
<line x1="321.44444444444446" y1="41.4" x2="321.44444444444446" y2="64" stroke="#2f5f90" stroke-width="0.8"/>
<line x1="321.44444444444446" y1="95.4" x2="321.44444444444446" y2="117" stroke="#2f5f90" stroke-width="0.8"/>
<rect x="317.24444444444447" y="64" width="8.4" height="31.400000000000006" fill="#f3f7fb" stroke="#3b7fc0" stroke-opacity="0.8" stroke-width="0.95"/>
<line x1="317.24444444444447" y1="80" x2="325.64444444444445" y2="80" stroke="#2f5f90" stroke-width="1.25"/>
<line x1="331.97222222222223" y1="24" x2="331.97222222222223" y2="56" stroke="#2f5f90" stroke-width="0.8"/>
<line x1="331.97222222222223" y1="91.4" x2="331.97222222222223" y2="115" stroke="#2f5f90" stroke-width="0.8"/>
<rect x="327.77222222222224" y="56" width="8.4" height="35.400000000000006" fill="#f3f7fb" stroke="#3b7fc0" stroke-opacity="0.8" stroke-width="0.95"/>
<line x1="327.77222222222224" y1="80" x2="336.1722222222222" y2="80" stroke="#2f5f90" stroke-width="1.25"/>
<line x1="342.5" y1="46" x2="342.5" y2="61.4" stroke="#2f5f90" stroke-width="0.8"/>
<line x1="342.5" y1="82" x2="342.5" y2="104" stroke="#2f5f90" stroke-width="0.8"/>
<rect x="338.3" y="61.4" width="8.4" height="20.6" fill="#f3f7fb" stroke="#3b7fc0" stroke-opacity="0.8" stroke-width="0.95"/>
<line x1="338.3" y1="66" x2="346.7" y2="66" stroke="#2f5f90" stroke-width="1.25"/>
<line x1="353.02777777777777" y1="48" x2="353.02777777777777" y2="57.4" stroke="#2f5f90" stroke-width="0.8"/>
<line x1="353.02777777777777" y1="72" x2="353.02777777777777" y2="92.6" stroke="#2f5f90" stroke-width="0.8"/>
<rect x="348.8277777777778" y="57.4" width="8.4" height="14.600000000000001" fill="#f3f7fb" stroke="#3b7fc0" stroke-opacity="0.8" stroke-width="0.95"/>
<line x1="348.8277777777778" y1="62" x2="357.22777777777776" y2="62" stroke="#2f5f90" stroke-width="1.25"/>
<line x1="363.55555555555554" y1="40" x2="363.55555555555554" y2="53" stroke="#2f5f90" stroke-width="0.8"/>
<line x1="363.55555555555554" y1="87" x2="363.55555555555554" y2="110" stroke="#2f5f90" stroke-width="0.8"/>
<rect x="359.35555555555555" y="53" width="8.4" height="34" fill="#f3f7fb" stroke="#3b7fc0" stroke-opacity="0.8" stroke-width="0.95"/>
<line x1="359.35555555555555" y1="61" x2="367.75555555555553" y2="61" stroke="#2f5f90" stroke-width="1.25"/>
<line x1="374.0833333333333" y1="45" x2="374.0833333333333" y2="64.6" stroke="#2f5f90" stroke-width="0.8"/>
<line x1="374.0833333333333" y1="107" x2="374.0833333333333" y2="121" stroke="#2f5f90" stroke-width="0.8"/>
<rect x="369.8833333333333" y="64.6" width="8.4" height="42.400000000000006" fill="#f3f7fb" stroke="#3b7fc0" stroke-opacity="0.8" stroke-width="0.95"/>
<line x1="369.8833333333333" y1="70" x2="378.2833333333333" y2="70" stroke="#2f5f90" stroke-width="1.25"/>
<circle cx="311.10" cy="98.8" r="0.85" fill="#262626"/>
<circle cx="311.10" cy="110.9" r="0.85" fill="#262626"/>
<circle cx="310.80" cy="105.8" r="0.85" fill="#262626"/>
<circle cx="311.04" cy="128.7" r="0.85" fill="#262626"/>
<circle cx="310.94" cy="109.7" r="0.85" fill="#262626"/>
<circle cx="311.06" cy="118.8" r="0.85" fill="#262626"/>
<circle cx="310.85" cy="126.6" r="0.85" fill="#262626"/>
<circle cx="311.03" cy="123.0" r="0.85" fill="#262626"/>
<circle cx="311.13" cy="124.1" r="0.85" fill="#262626"/>
<circle cx="311.19" cy="123.4" r="0.85" fill="#262626"/>
<circle cx="311.01" cy="128.3" r="0.85" fill="#262626"/>
<circle cx="311.06" cy="111.0" r="0.85" fill="#262626"/>
<circle cx="310.92" cy="27" r="0.85" fill="#2a2a2a"/>
<circle cx="321.39" cy="102.1" r="0.85" fill="#262626"/>
<circle cx="321.20" cy="73.2" r="0.85" fill="#262626"/>
<circle cx="321.79" cy="97.4" r="0.85" fill="#262626"/>
<circle cx="321.21" cy="69.8" r="0.85" fill="#262626"/>
<circle cx="321.39" cy="56.8" r="0.85" fill="#262626"/>
<circle cx="321.77" cy="63.5" r="0.85" fill="#262626"/>
<circle cx="321.31" cy="45.9" r="0.85" fill="#262626"/>
<circle cx="321.55" cy="50.1" r="0.85" fill="#262626"/>
<circle cx="321.22" cy="100.1" r="0.85" fill="#262626"/>
<circle cx="321.42" cy="46.1" r="0.85" fill="#262626"/>
<circle cx="321.73" cy="85.6" r="0.85" fill="#262626"/>
<circle cx="321.17" cy="44.1" r="0.85" fill="#262626"/>
<circle cx="321.25" cy="55.4" r="0.85" fill="#262626"/>
<circle cx="321.60" cy="59.2" r="0.85" fill="#262626"/>
<circle cx="321.25" cy="86.4" r="0.85" fill="#262626"/>
<circle cx="321.29" cy="55.4" r="0.85" fill="#262626"/>
<circle cx="321.62" cy="54.4" r="0.85" fill="#262626"/>
<circle cx="321.48" cy="65.0" r="0.85" fill="#262626"/>
<circle cx="321.43" cy="103.2" r="0.85" fill="#262626"/>
<circle cx="321.72" cy="61.1" r="0.85" fill="#262626"/>
<circle cx="331.86" cy="107.2" r="0.85" fill="#262626"/>
<circle cx="332.29" cy="73.8" r="0.85" fill="#262626"/>
<circle cx="331.78" cy="67.9" r="0.85" fill="#262626"/>
<circle cx="332.29" cy="28.5" r="0.85" fill="#262626"/>
<circle cx="331.89" cy="96.9" r="0.85" fill="#262626"/>
<circle cx="331.98" cy="72.0" r="0.85" fill="#262626"/>
<circle cx="332.32" cy="49.0" r="0.85" fill="#262626"/>
<circle cx="331.79" cy="83.8" r="0.85" fill="#262626"/>
<circle cx="331.95" cy="25.0" r="0.85" fill="#262626"/>
<circle cx="332.18" cy="57.8" r="0.85" fill="#262626"/>
<circle cx="332.05" cy="88.9" r="0.85" fill="#262626"/>
<circle cx="331.73" cy="38.3" r="0.85" fill="#262626"/>
<circle cx="331.80" cy="53.3" r="0.85" fill="#262626"/>
<circle cx="331.98" cy="103.1" r="0.85" fill="#262626"/>
<circle cx="332.32" cy="82.0" r="0.85" fill="#262626"/>
<circle cx="332.00" cy="48.3" r="0.85" fill="#262626"/>
<circle cx="332.16" cy="37.7" r="0.85" fill="#262626"/>
<circle cx="332.20" cy="24.1" r="0.85" fill="#262626"/>
<circle cx="332.20" cy="101.0" r="0.85" fill="#262626"/>
<circle cx="331.81" cy="31.5" r="0.85" fill="#262626"/>
<circle cx="331.69" cy="89.2" r="0.85" fill="#262626"/>
<circle cx="331.95" cy="67.7" r="0.85" fill="#262626"/>
<circle cx="332.03" cy="110.9" r="0.85" fill="#262626"/>
<circle cx="331.83" cy="102.0" r="0.85" fill="#262626"/>
<circle cx="342.44" cy="91.8" r="0.85" fill="#262626"/>
<circle cx="342.21" cy="99.2" r="0.85" fill="#262626"/>
<circle cx="342.30" cy="93.9" r="0.85" fill="#262626"/>
<circle cx="342.52" cy="77.5" r="0.85" fill="#262626"/>
<circle cx="342.73" cy="55.1" r="0.85" fill="#262626"/>
<circle cx="342.37" cy="64.1" r="0.85" fill="#262626"/>
<circle cx="342.36" cy="50.4" r="0.85" fill="#262626"/>
<circle cx="342.65" cy="73.1" r="0.85" fill="#262626"/>
<circle cx="342.63" cy="66.9" r="0.85" fill="#262626"/>
<circle cx="342.43" cy="52.1" r="0.85" fill="#262626"/>
<circle cx="342.83" cy="72.8" r="0.85" fill="#262626"/>
<circle cx="342.61" cy="94.1" r="0.85" fill="#262626"/>
<circle cx="342.41" cy="46.7" r="0.85" fill="#262626"/>
<circle cx="342.32" cy="87.2" r="0.85" fill="#262626"/>
<circle cx="342.47" cy="78.7" r="0.85" fill="#262626"/>
<circle cx="342.84" cy="46.6" r="0.85" fill="#262626"/>
<circle cx="352.82" cy="83.7" r="0.85" fill="#262626"/>
<circle cx="352.88" cy="75.5" r="0.85" fill="#262626"/>
<circle cx="353.06" cy="64.8" r="0.85" fill="#262626"/>
<circle cx="352.91" cy="61.3" r="0.85" fill="#262626"/>
<circle cx="353.14" cy="65.5" r="0.85" fill="#262626"/>
<circle cx="352.82" cy="59.4" r="0.85" fill="#262626"/>
<circle cx="352.91" cy="80.6" r="0.85" fill="#262626"/>
<circle cx="353.07" cy="90.1" r="0.85" fill="#262626"/>
<circle cx="352.91" cy="80.3" r="0.85" fill="#262626"/>
<circle cx="352.74" cy="84.9" r="0.85" fill="#262626"/>
<circle cx="352.74" cy="54.3" r="0.85" fill="#262626"/>
<circle cx="353.17" cy="78.2" r="0.85" fill="#262626"/>
<circle cx="352.96" cy="56.0" r="0.85" fill="#262626"/>
<circle cx="363.62" cy="98.6" r="0.85" fill="#262626"/>
<circle cx="363.36" cy="46.3" r="0.85" fill="#262626"/>
<circle cx="363.29" cy="51.0" r="0.85" fill="#262626"/>
<circle cx="363.26" cy="68.5" r="0.85" fill="#262626"/>
<circle cx="363.50" cy="104.4" r="0.85" fill="#262626"/>
<circle cx="363.66" cy="75.8" r="0.85" fill="#262626"/>
<circle cx="363.78" cy="93.7" r="0.85" fill="#262626"/>
<circle cx="363.44" cy="67.0" r="0.85" fill="#262626"/>
<circle cx="363.22" cy="68.8" r="0.85" fill="#262626"/>
<circle cx="363.70" cy="68.0" r="0.85" fill="#262626"/>
<circle cx="363.76" cy="108.7" r="0.85" fill="#262626"/>
<circle cx="363.63" cy="86.2" r="0.85" fill="#262626"/>
<circle cx="363.44" cy="41.3" r="0.85" fill="#262626"/>
<circle cx="363.66" cy="64.0" r="0.85" fill="#262626"/>
<circle cx="363.47" cy="47.4" r="0.85" fill="#262626"/>
<circle cx="363.76" cy="75.7" r="0.85" fill="#262626"/>
<circle cx="363.63" cy="97.8" r="0.85" fill="#262626"/>
<circle cx="363.74" cy="51.1" r="0.85" fill="#262626"/>
<circle cx="363.59" cy="103.2" r="0.85" fill="#262626"/>
<circle cx="374.08" cy="71.8" r="0.85" fill="#262626"/>
<circle cx="374.23" cy="55.8" r="0.85" fill="#262626"/>
<circle cx="374.09" cy="120.0" r="0.85" fill="#262626"/>
<circle cx="374.32" cy="99.4" r="0.85" fill="#262626"/>
<circle cx="374.39" cy="60.0" r="0.85" fill="#262626"/>
<circle cx="373.87" cy="92.7" r="0.85" fill="#262626"/>
<circle cx="373.90" cy="51.3" r="0.85" fill="#262626"/>
<circle cx="374.22" cy="88.8" r="0.85" fill="#262626"/>
<circle cx="374.38" cy="70.0" r="0.85" fill="#262626"/>
<circle cx="374.06" cy="72.5" r="0.85" fill="#262626"/>
<circle cx="374.41" cy="54.4" r="0.85" fill="#262626"/>
<circle cx="374.37" cy="55.3" r="0.85" fill="#262626"/>
<circle cx="374.13" cy="86.3" r="0.85" fill="#262626"/>
<circle cx="373.92" cy="87.6" r="0.85" fill="#262626"/>
<circle cx="374.43" cy="114.1" r="0.85" fill="#262626"/>
<circle cx="374.15" cy="107.1" r="0.85" fill="#262626"/>
<circle cx="374.31" cy="54.3" r="0.85" fill="#262626"/>
<circle cx="374.36" cy="66.9" r="0.85" fill="#262626"/>
<circle cx="374.13" cy="63.3" r="0.85" fill="#262626"/>
<circle cx="373.86" cy="108.1" r="0.85" fill="#262626"/>
<circle cx="373.79" cy="86.6" r="0.85" fill="#262626"/>
<polygon points="311.00,91.50 312.16,90.09 313.76,88.10 315.65,85.77 317.69,83.32 319.72,80.98 321.60,79.00 323.34,77.34 325.08,75.80 326.81,74.38 328.53,73.07 330.26,71.84 332.00,70.70 333.74,69.63 335.49,68.64 337.24,67.74 339.00,66.95 340.75,66.26 342.50,65.70 344.25,65.28 346.00,65.00 347.74,64.84 349.49,64.75 351.24,64.72 353.00,64.70 354.76,64.72 356.53,64.79 358.31,64.91 360.08,65.08 361.84,65.28 363.60,65.50 365.47,65.79 367.47,66.15 369.46,66.55 371.31,66.94 372.87,67.27 374.00,67.50 374.00,86.50 372.87,85.34 371.31,83.69 369.46,81.76 367.47,79.77 365.47,77.95 363.60,76.50 361.84,75.40 360.08,74.48 358.31,73.71 356.53,73.10 354.76,72.63 353.00,72.30 351.24,72.12 349.49,72.10 347.74,72.22 346.00,72.48 344.25,72.84 342.50,73.30 340.75,73.84 339.00,74.46 337.24,75.19 335.49,76.06 333.74,77.09 332.00,78.30 330.26,79.67 328.53,81.19 326.81,82.87 325.08,84.72 323.34,86.76 321.60,89.00 319.72,91.73 317.69,94.98 315.65,98.42 313.76,101.71 312.16,104.52 311.00,106.50" fill="#9a9a9a" opacity="0.3"/>
<path d="M311.00,99.00 L312.44,96.87 L314.49,93.82 L316.87,90.32 L319.32,86.89 L321.60,84.00 L323.69,81.68 L325.77,79.59 L327.84,77.71 L329.92,76.02 L332.00,74.50 L334.09,73.15 L336.19,71.98 L338.30,71.00 L340.40,70.17 L342.50,69.50 L344.60,68.99 L346.70,68.64 L348.79,68.46 L350.89,68.41 L353.00,68.50 L355.12,68.72 L357.24,69.08 L359.37,69.58 L361.49,70.22 L363.60,71.00 L365.86,72.07 L368.27,73.44 L370.60,74.86 L372.59,76.13 L374.00,77.00" fill="none" stroke="#111" stroke-width="1.45" stroke-linejoin="round" stroke-linecap="round"/>
<line x1="310.9166666666667" y1="135.3" x2="310.9166666666667" y2="137.70000000000002" stroke="#333" stroke-width="0.8"/>
<text x="310.9166666666667" y="143.70000000000002" font-size="5.8" font-weight="normal" text-anchor="middle" fill="#444" stroke="#444" stroke-width="0.05">1</text>
<line x1="321.44444444444446" y1="135.3" x2="321.44444444444446" y2="137.70000000000002" stroke="#333" stroke-width="0.8"/>
<text x="321.44444444444446" y="143.70000000000002" font-size="5.8" font-weight="normal" text-anchor="middle" fill="#444" stroke="#444" stroke-width="0.05">2</text>
<line x1="331.97222222222223" y1="135.3" x2="331.97222222222223" y2="137.70000000000002" stroke="#333" stroke-width="0.8"/>
<text x="331.97222222222223" y="143.70000000000002" font-size="5.8" font-weight="normal" text-anchor="middle" fill="#444" stroke="#444" stroke-width="0.05">3</text>
<line x1="342.5" y1="135.3" x2="342.5" y2="137.70000000000002" stroke="#333" stroke-width="0.8"/>
<text x="342.5" y="143.70000000000002" font-size="5.8" font-weight="normal" text-anchor="middle" fill="#444" stroke="#444" stroke-width="0.05">4</text>
<line x1="353.02777777777777" y1="135.3" x2="353.02777777777777" y2="137.70000000000002" stroke="#333" stroke-width="0.8"/>
<text x="353.02777777777777" y="143.70000000000002" font-size="5.8" font-weight="normal" text-anchor="middle" fill="#444" stroke="#444" stroke-width="0.05">5</text>
<line x1="363.55555555555554" y1="135.3" x2="363.55555555555554" y2="137.70000000000002" stroke="#333" stroke-width="0.8"/>
<text x="363.55555555555554" y="143.70000000000002" font-size="5.8" font-weight="normal" text-anchor="middle" fill="#444" stroke="#444" stroke-width="0.05">6</text>
<line x1="374.0833333333333" y1="135.3" x2="374.0833333333333" y2="137.70000000000002" stroke="#333" stroke-width="0.8"/>
<text x="374.0833333333333" y="143.70000000000002" font-size="5.8" font-weight="normal" text-anchor="middle" fill="#444" stroke="#444" stroke-width="0.05">7+</text>
<rect x="40.5" y="182.5" width="88.5" height="115.19999999999999" fill="#fff" stroke="#969696" stroke-width="1"/>
<text x="84.75" y="176.2" font-size="9.6" font-weight="bold" text-anchor="middle" fill="#000" stroke="#000" stroke-width="0.08">S1</text>
<line x1="37.9" y1="184" x2="40.5" y2="184" stroke="#333" stroke-width="0.95"/>
<text x="36.9" y="186.1" font-size="6.1" font-weight="normal" text-anchor="end" fill="#333" stroke="#333" stroke-width="0.25">30000</text>
<line x1="37.9" y1="220.3" x2="40.5" y2="220.3" stroke="#333" stroke-width="0.95"/>
<text x="36.9" y="222.4" font-size="6.1" font-weight="normal" text-anchor="end" fill="#333" stroke="#333" stroke-width="0.25">20000</text>
<line x1="37.9" y1="256.7" x2="40.5" y2="256.7" stroke="#333" stroke-width="0.95"/>
<text x="36.9" y="258.8" font-size="6.1" font-weight="normal" text-anchor="end" fill="#333" stroke="#333" stroke-width="0.25">10000</text>
<line x1="37.9" y1="293" x2="40.5" y2="293" stroke="#333" stroke-width="0.95"/>
<text x="36.9" y="295.1" font-size="6.1" font-weight="normal" text-anchor="end" fill="#333" stroke="#333" stroke-width="0.25">0</text>
<line x1="64.63636363636364" y1="297.7" x2="64.63636363636364" y2="300.09999999999997" stroke="#333" stroke-width="0.8"/>
<text x="64.63636363636364" y="306.3" font-size="6.2" font-weight="normal" text-anchor="middle" fill="#444" stroke="#444" stroke-width="0.05">IgG</text>
<line x1="104.86363636363636" y1="297.7" x2="104.86363636363636" y2="300.09999999999997" stroke="#333" stroke-width="0.8"/>
<text x="104.86363636363636" y="306.3" font-size="6.2" font-weight="normal" text-anchor="middle" fill="#444" stroke="#444" stroke-width="0.05">IgM</text>
<line x1="57.33636363636364" y1="292" x2="57.33636363636364" y2="292" stroke="#283593" stroke-width="0.7" opacity="0.8"/>
<rect x="50.436363636363645" y="291.6" width="13.8" height="0.7999999999999545" fill="#fff" fill-opacity="0.3" stroke="#283593" stroke-width="1"/>
<line x1="50.436363636363645" y1="292" x2="64.23636363636365" y2="292" stroke="#283593" stroke-width="1.3"/>
<circle cx="58.06" cy="292.5" r="0.95" fill="#283593" opacity="0.85"/>
<circle cx="59.18" cy="291.7" r="0.95" fill="#283593" opacity="0.85"/>
<circle cx="57.00" cy="291.6" r="0.95" fill="#283593" opacity="0.85"/>
<circle cx="62.34" cy="292.2" r="0.95" fill="#283593" opacity="0.85"/>
<circle cx="58.17" cy="291.8" r="0.95" fill="#283593" opacity="0.85"/>
<circle cx="60.32" cy="292.6" r="0.95" fill="#283593" opacity="0.85"/>
<circle cx="58.67" cy="292.2" r="0.95" fill="#283593" opacity="0.85"/>
<circle cx="56.41" cy="291.9" r="0.95" fill="#283593" opacity="0.85"/>
<circle cx="60.96" cy="291.7" r="0.95" fill="#283593" opacity="0.85"/>
<circle cx="56.04" cy="292.5" r="0.95" fill="#283593" opacity="0.85"/>
<circle cx="52.26" cy="292.6" r="0.95" fill="#283593" opacity="0.85"/>
<circle cx="57.41" cy="291.5" r="0.95" fill="#283593" opacity="0.85"/>
<circle cx="55.80" cy="291.7" r="0.95" fill="#283593" opacity="0.85"/>
<circle cx="53.48" cy="292.7" r="0.95" fill="#283593" opacity="0.85"/>
<circle cx="54.35" cy="291.6" r="0.95" fill="#283593" opacity="0.85"/>
<circle cx="54.42" cy="292.3" r="0.95" fill="#283593" opacity="0.85"/>
<circle cx="57.82" cy="291.3" r="0.95" fill="#283593" opacity="0.85"/>
<circle cx="54.47" cy="291.9" r="0.95" fill="#283593" opacity="0.85"/>
<circle cx="58.99" cy="292.0" r="0.95" fill="#283593" opacity="0.85"/>
<circle cx="58.70" cy="292.1" r="0.95" fill="#283593" opacity="0.85"/>
<circle cx="58.34" cy="290.0" r="0.95" fill="#283593" opacity="0.85"/>
<line x1="71.93636363636364" y1="211" x2="71.93636363636364" y2="291" stroke="#d59b18" stroke-width="0.7" opacity="0.8"/>
<rect x="65.03636363636363" y="251.3" width="13.8" height="24.5" fill="#fff" fill-opacity="0.3" stroke="#d59b18" stroke-width="1"/>
<line x1="65.03636363636363" y1="267" x2="78.83636363636364" y2="267" stroke="#d59b18" stroke-width="1.3"/>
<circle cx="68.42" cy="252.1" r="0.95" fill="#d99a1a" opacity="0.85"/>
<circle cx="76.77" cy="275.5" r="0.95" fill="#d99a1a" opacity="0.85"/>
<circle cx="69.82" cy="267.4" r="0.95" fill="#d99a1a" opacity="0.85"/>
<circle cx="74.55" cy="267.7" r="0.95" fill="#d99a1a" opacity="0.85"/>
<circle cx="72.95" cy="260.7" r="0.95" fill="#d99a1a" opacity="0.85"/>
<circle cx="66.62" cy="271.0" r="0.95" fill="#d99a1a" opacity="0.85"/>
<circle cx="71.58" cy="256.2" r="0.95" fill="#d99a1a" opacity="0.85"/>
<circle cx="70.69" cy="254.8" r="0.95" fill="#d99a1a" opacity="0.85"/>
<circle cx="68.35" cy="265.3" r="0.95" fill="#d99a1a" opacity="0.85"/>
<circle cx="69.34" cy="264.0" r="0.95" fill="#d99a1a" opacity="0.85"/>
<circle cx="70.09" cy="265.2" r="0.95" fill="#d99a1a" opacity="0.85"/>
<circle cx="66.85" cy="267.0" r="0.95" fill="#d99a1a" opacity="0.85"/>
<circle cx="68.03" cy="267.7" r="0.95" fill="#d99a1a" opacity="0.85"/>
<circle cx="73.04" cy="274.8" r="0.95" fill="#d99a1a" opacity="0.85"/>
<circle cx="70.96" cy="262.8" r="0.95" fill="#d99a1a" opacity="0.85"/>
<circle cx="74.02" cy="266.6" r="0.95" fill="#d99a1a" opacity="0.85"/>
<circle cx="74.71" cy="269.9" r="0.95" fill="#d99a1a" opacity="0.85"/>
<circle cx="77.38" cy="263.2" r="0.95" fill="#d99a1a" opacity="0.85"/>
<circle cx="75.84" cy="271.8" r="0.95" fill="#d99a1a" opacity="0.85"/>
<circle cx="71.21" cy="261.3" r="0.95" fill="#d99a1a" opacity="0.85"/>
<circle cx="76.39" cy="265.2" r="0.95" fill="#d99a1a" opacity="0.85"/>
<circle cx="72.21" cy="264.2" r="0.95" fill="#d99a1a" opacity="0.85"/>
<circle cx="76.38" cy="261.9" r="0.95" fill="#d99a1a" opacity="0.85"/>
<circle cx="67.04" cy="259.2" r="0.95" fill="#d99a1a" opacity="0.85"/>
<circle cx="76.34" cy="269.1" r="0.95" fill="#d99a1a" opacity="0.85"/>
<circle cx="73.01" cy="269.2" r="0.95" fill="#d99a1a" opacity="0.85"/>
<circle cx="69.79" cy="269.7" r="0.95" fill="#d99a1a" opacity="0.85"/>
<circle cx="67.20" cy="265.8" r="0.95" fill="#d99a1a" opacity="0.85"/>
<circle cx="71.35" cy="254.3" r="0.95" fill="#d99a1a" opacity="0.85"/>
<circle cx="70.80" cy="263.6" r="0.95" fill="#d99a1a" opacity="0.85"/>
<circle cx="74.08" cy="252.6" r="0.95" fill="#d99a1a" opacity="0.85"/>
<circle cx="69.07" cy="264.2" r="0.95" fill="#d99a1a" opacity="0.85"/>
<circle cx="70.79" cy="258.8" r="0.95" fill="#d99a1a" opacity="0.85"/>
<circle cx="67.19" cy="257.1" r="0.95" fill="#d99a1a" opacity="0.85"/>
<circle cx="77.07" cy="273.6" r="0.95" fill="#d99a1a" opacity="0.85"/>
<circle cx="75.97" cy="267.6" r="0.95" fill="#d99a1a" opacity="0.85"/>
<circle cx="75.29" cy="261.6" r="0.95" fill="#d99a1a" opacity="0.85"/>
<circle cx="74.65" cy="256.7" r="0.95" fill="#d99a1a" opacity="0.85"/>
<circle cx="76.37" cy="265.2" r="0.95" fill="#d99a1a" opacity="0.85"/>
<circle cx="75.15" cy="253.7" r="0.95" fill="#d99a1a" opacity="0.85"/>
<circle cx="72.35" cy="254.3" r="0.95" fill="#d99a1a" opacity="0.85"/>
<circle cx="66.44" cy="274.6" r="0.95" fill="#d99a1a" opacity="0.85"/>
<circle cx="69.73" cy="257.3" r="0.95" fill="#d99a1a" opacity="0.85"/>
<circle cx="67.13" cy="259.3" r="0.95" fill="#d99a1a" opacity="0.85"/>
<circle cx="75.41" cy="273.2" r="0.95" fill="#d99a1a" opacity="0.85"/>
<circle cx="70.36" cy="261.0" r="0.95" fill="#d99a1a" opacity="0.85"/>
<circle cx="66.94" cy="265.6" r="0.95" fill="#d99a1a" opacity="0.85"/>
<circle cx="76.32" cy="252.1" r="0.95" fill="#d99a1a" opacity="0.85"/>
<circle cx="71.92" cy="258.8" r="0.95" fill="#d99a1a" opacity="0.85"/>
<circle cx="77.19" cy="274.2" r="0.95" fill="#d99a1a" opacity="0.85"/>
<circle cx="68.71" cy="262.9" r="0.95" fill="#d99a1a" opacity="0.85"/>
<circle cx="76.59" cy="258.5" r="0.95" fill="#d99a1a" opacity="0.85"/>
<circle cx="68.59" cy="273.3" r="0.95" fill="#d99a1a" opacity="0.85"/>
<circle cx="70.33" cy="271.8" r="0.95" fill="#d99a1a" opacity="0.85"/>
<circle cx="68.33" cy="262.9" r="0.95" fill="#d99a1a" opacity="0.85"/>
<circle cx="77.39" cy="272.9" r="0.95" fill="#d99a1a" opacity="0.85"/>
<circle cx="73.39" cy="256.2" r="0.95" fill="#d99a1a" opacity="0.85"/>
<circle cx="76.12" cy="256.0" r="0.95" fill="#d99a1a" opacity="0.85"/>
<circle cx="67.60" cy="252.5" r="0.95" fill="#d99a1a" opacity="0.85"/>
<circle cx="69.88" cy="269.1" r="0.95" fill="#d99a1a" opacity="0.85"/>
<circle cx="76.00" cy="273.4" r="0.95" fill="#d99a1a" opacity="0.85"/>
<circle cx="67.92" cy="268.8" r="0.95" fill="#d99a1a" opacity="0.85"/>
<circle cx="76.75" cy="268.4" r="0.95" fill="#d99a1a" opacity="0.85"/>
<circle cx="67.31" cy="262.2" r="0.95" fill="#d99a1a" opacity="0.85"/>
<circle cx="69.82" cy="256.8" r="0.95" fill="#d99a1a" opacity="0.85"/>
<circle cx="68.60" cy="268.7" r="0.95" fill="#d99a1a" opacity="0.85"/>
<circle cx="69.03" cy="255.7" r="0.95" fill="#d99a1a" opacity="0.85"/>
<circle cx="75.13" cy="267.6" r="0.95" fill="#d99a1a" opacity="0.85"/>
<circle cx="73.72" cy="260.4" r="0.95" fill="#d99a1a" opacity="0.85"/>
<circle cx="72.93" cy="273.0" r="0.95" fill="#d99a1a" opacity="0.85"/>
<circle cx="70.14" cy="279.3" r="0.95" fill="#d99a1a" opacity="0.85"/>
<circle cx="73.44" cy="289.9" r="0.95" fill="#d99a1a" opacity="0.85"/>
<circle cx="73.20" cy="280.0" r="0.95" fill="#d99a1a" opacity="0.85"/>
<circle cx="76.28" cy="277.2" r="0.95" fill="#d99a1a" opacity="0.85"/>
<circle cx="72.19" cy="282.5" r="0.95" fill="#d99a1a" opacity="0.85"/>
<circle cx="67.84" cy="283.9" r="0.95" fill="#d99a1a" opacity="0.85"/>
<circle cx="70.00" cy="284.9" r="0.95" fill="#d99a1a" opacity="0.85"/>
<circle cx="74.67" cy="279.6" r="0.95" fill="#d99a1a" opacity="0.85"/>
<circle cx="70.00" cy="277.1" r="0.95" fill="#d99a1a" opacity="0.85"/>
<circle cx="69.65" cy="287.3" r="0.95" fill="#d99a1a" opacity="0.85"/>
<circle cx="72.37" cy="280.0" r="0.95" fill="#d99a1a" opacity="0.85"/>
<circle cx="75.51" cy="278.6" r="0.95" fill="#d99a1a" opacity="0.85"/>
<circle cx="67.74" cy="290.8" r="0.95" fill="#d99a1a" opacity="0.85"/>
<circle cx="74.19" cy="282.8" r="0.95" fill="#d99a1a" opacity="0.85"/>
<circle cx="75.80" cy="281.6" r="0.95" fill="#d99a1a" opacity="0.85"/>
<circle cx="69.06" cy="283.4" r="0.95" fill="#d99a1a" opacity="0.85"/>
<circle cx="73.24" cy="284.3" r="0.95" fill="#d99a1a" opacity="0.85"/>
<circle cx="73.36" cy="281.3" r="0.95" fill="#d99a1a" opacity="0.85"/>
<circle cx="72.09" cy="287.7" r="0.95" fill="#d99a1a" opacity="0.85"/>
<circle cx="75.04" cy="283.5" r="0.95" fill="#d99a1a" opacity="0.85"/>
<circle cx="72.12" cy="286.2" r="0.95" fill="#d99a1a" opacity="0.85"/>
<circle cx="69.00" cy="290.3" r="0.95" fill="#d99a1a" opacity="0.85"/>
<circle cx="68.92" cy="287.7" r="0.95" fill="#d99a1a" opacity="0.85"/>
<circle cx="69.55" cy="285.0" r="0.95" fill="#d99a1a" opacity="0.85"/>
<circle cx="74.39" cy="282.5" r="0.95" fill="#d99a1a" opacity="0.85"/>
<circle cx="74.56" cy="287.8" r="0.95" fill="#d99a1a" opacity="0.85"/>
<circle cx="71.84" cy="279.4" r="0.95" fill="#d99a1a" opacity="0.85"/>
<circle cx="72.66" cy="279.2" r="0.95" fill="#d99a1a" opacity="0.85"/>
<circle cx="67.75" cy="283.4" r="0.95" fill="#d99a1a" opacity="0.85"/>
<circle cx="73.87" cy="284.9" r="0.95" fill="#d99a1a" opacity="0.85"/>
<circle cx="74.55" cy="242.2" r="0.95" fill="#d99a1a" opacity="0.85"/>
<circle cx="69.50" cy="233.8" r="0.95" fill="#d99a1a" opacity="0.85"/>
<circle cx="71.91" cy="230.4" r="0.95" fill="#d99a1a" opacity="0.85"/>
<circle cx="71.53" cy="239.3" r="0.95" fill="#d99a1a" opacity="0.85"/>
<circle cx="74.03" cy="235.6" r="0.95" fill="#d99a1a" opacity="0.85"/>
<circle cx="74.79" cy="231.5" r="0.95" fill="#d99a1a" opacity="0.85"/>
<circle cx="72.24" cy="242.1" r="0.95" fill="#d99a1a" opacity="0.85"/>
<circle cx="70.10" cy="246.9" r="0.95" fill="#d99a1a" opacity="0.85"/>
<circle cx="70.61" cy="233.1" r="0.95" fill="#d99a1a" opacity="0.85"/>
<circle cx="70.64" cy="230.9" r="0.95" fill="#d99a1a" opacity="0.85"/>
<circle cx="72.11" cy="243.2" r="0.95" fill="#d99a1a" opacity="0.85"/>
<circle cx="72.56" cy="235.6" r="0.95" fill="#d99a1a" opacity="0.85"/>
<circle cx="74.18" cy="231.9" r="0.95" fill="#d99a1a" opacity="0.85"/>
<circle cx="70.22" cy="233.7" r="0.95" fill="#d99a1a" opacity="0.85"/>
<circle cx="72.89" cy="214.0" r="0.95" fill="#d99a1a" opacity="0.85"/>
<circle cx="73.37" cy="226.8" r="0.95" fill="#d99a1a" opacity="0.85"/>
<circle cx="71.49" cy="212.2" r="0.95" fill="#d99a1a" opacity="0.85"/>
<circle cx="70.52" cy="217.9" r="0.95" fill="#d99a1a" opacity="0.85"/>
<circle cx="69.65" cy="229.4" r="0.95" fill="#d99a1a" opacity="0.85"/>
<circle cx="73.24" cy="220.3" r="0.95" fill="#d99a1a" opacity="0.85"/>
<circle cx="70.16" cy="229.7" r="0.95" fill="#d99a1a" opacity="0.85"/>
<circle cx="75.94" cy="194.4" r="0.95" fill="#d99a1a" opacity="0.85"/>
<circle cx="68.94" cy="199.0" r="0.95" fill="#d99a1a" opacity="0.85"/>
<circle cx="72.44" cy="201.5" r="0.95" fill="#d99a1a" opacity="0.85"/>
<circle cx="74.44" cy="201.0" r="0.95" fill="#d99a1a" opacity="0.85"/>
<circle cx="75.44" cy="211.0" r="0.95" fill="#d99a1a" opacity="0.85"/>
<line x1="97.56363636363636" y1="292" x2="97.56363636363636" y2="292" stroke="#283593" stroke-width="0.7" opacity="0.8"/>
<rect x="90.66363636363636" y="291.8" width="13.8" height="0.5" fill="#fff" fill-opacity="0.3" stroke="#283593" stroke-width="1"/>
<line x1="90.66363636363636" y1="292" x2="104.46363636363637" y2="292" stroke="#283593" stroke-width="1.3"/>
<circle cx="101.21" cy="292.1" r="0.95" fill="#283593" opacity="0.85"/>
<circle cx="95.73" cy="292.7" r="0.95" fill="#283593" opacity="0.85"/>
<circle cx="101.81" cy="291.8" r="0.95" fill="#283593" opacity="0.85"/>
<circle cx="99.94" cy="291.7" r="0.95" fill="#283593" opacity="0.85"/>
<circle cx="99.62" cy="292.3" r="0.95" fill="#283593" opacity="0.85"/>
<circle cx="101.13" cy="292.6" r="0.95" fill="#283593" opacity="0.85"/>
<circle cx="98.90" cy="291.5" r="0.95" fill="#283593" opacity="0.85"/>
<circle cx="98.27" cy="292.0" r="0.95" fill="#283593" opacity="0.85"/>
<circle cx="95.21" cy="291.8" r="0.95" fill="#283593" opacity="0.85"/>
<circle cx="97.94" cy="292.3" r="0.95" fill="#283593" opacity="0.85"/>
<circle cx="94.81" cy="291.6" r="0.95" fill="#283593" opacity="0.85"/>
<circle cx="94.02" cy="291.8" r="0.95" fill="#283593" opacity="0.85"/>
<circle cx="93.45" cy="292.0" r="0.95" fill="#283593" opacity="0.85"/>
<circle cx="92.82" cy="291.4" r="0.95" fill="#283593" opacity="0.85"/>
<circle cx="99.82" cy="291.4" r="0.95" fill="#283593" opacity="0.85"/>
<circle cx="97.03" cy="291.5" r="0.95" fill="#283593" opacity="0.85"/>
<line x1="112.16363636363636" y1="252.6" x2="112.16363636363636" y2="292" stroke="#d59b18" stroke-width="0.7" opacity="0.8"/>
<rect x="105.26363636363635" y="273.6" width="13.8" height="13.0" fill="#fff" fill-opacity="0.3" stroke="#d59b18" stroke-width="1"/>
<line x1="105.26363636363635" y1="280.4" x2="119.06363636363636" y2="280.4" stroke="#d59b18" stroke-width="1.3"/>
<circle cx="114.86" cy="279.5" r="0.95" fill="#d99a1a" opacity="0.85"/>
<circle cx="109.31" cy="274.1" r="0.95" fill="#d99a1a" opacity="0.85"/>
<circle cx="108.22" cy="285.2" r="0.95" fill="#d99a1a" opacity="0.85"/>
<circle cx="109.94" cy="278.7" r="0.95" fill="#d99a1a" opacity="0.85"/>
<circle cx="107.50" cy="279.1" r="0.95" fill="#d99a1a" opacity="0.85"/>
<circle cx="117.62" cy="274.0" r="0.95" fill="#d99a1a" opacity="0.85"/>
<circle cx="114.74" cy="283.5" r="0.95" fill="#d99a1a" opacity="0.85"/>
<circle cx="109.45" cy="276.6" r="0.95" fill="#d99a1a" opacity="0.85"/>
<circle cx="109.32" cy="280.8" r="0.95" fill="#d99a1a" opacity="0.85"/>
<circle cx="116.92" cy="279.6" r="0.95" fill="#d99a1a" opacity="0.85"/>
<circle cx="110.37" cy="278.3" r="0.95" fill="#d99a1a" opacity="0.85"/>
<circle cx="113.38" cy="286.4" r="0.95" fill="#d99a1a" opacity="0.85"/>
<circle cx="111.10" cy="274.1" r="0.95" fill="#d99a1a" opacity="0.85"/>
<circle cx="107.31" cy="282.0" r="0.95" fill="#d99a1a" opacity="0.85"/>
<circle cx="114.31" cy="278.1" r="0.95" fill="#d99a1a" opacity="0.85"/>
<circle cx="113.16" cy="284.8" r="0.95" fill="#d99a1a" opacity="0.85"/>
<circle cx="111.75" cy="285.1" r="0.95" fill="#d99a1a" opacity="0.85"/>
<circle cx="115.94" cy="278.7" r="0.95" fill="#d99a1a" opacity="0.85"/>
<circle cx="115.26" cy="278.6" r="0.95" fill="#d99a1a" opacity="0.85"/>
<circle cx="110.49" cy="276.4" r="0.95" fill="#d99a1a" opacity="0.85"/>
<circle cx="112.71" cy="276.0" r="0.95" fill="#d99a1a" opacity="0.85"/>
<circle cx="108.90" cy="275.7" r="0.95" fill="#d99a1a" opacity="0.85"/>
<circle cx="111.81" cy="276.4" r="0.95" fill="#d99a1a" opacity="0.85"/>
<circle cx="111.58" cy="277.6" r="0.95" fill="#d99a1a" opacity="0.85"/>
<circle cx="114.13" cy="286.5" r="0.95" fill="#d99a1a" opacity="0.85"/>
<circle cx="108.91" cy="284.8" r="0.95" fill="#d99a1a" opacity="0.85"/>
<circle cx="107.46" cy="278.6" r="0.95" fill="#d99a1a" opacity="0.85"/>
<circle cx="110.65" cy="282.6" r="0.95" fill="#d99a1a" opacity="0.85"/>
<circle cx="106.87" cy="277.2" r="0.95" fill="#d99a1a" opacity="0.85"/>
<circle cx="109.55" cy="276.0" r="0.95" fill="#d99a1a" opacity="0.85"/>
<circle cx="116.82" cy="278.7" r="0.95" fill="#d99a1a" opacity="0.85"/>
<circle cx="109.62" cy="282.9" r="0.95" fill="#d99a1a" opacity="0.85"/>
<circle cx="108.35" cy="278.3" r="0.95" fill="#d99a1a" opacity="0.85"/>
<circle cx="110.62" cy="285.8" r="0.95" fill="#d99a1a" opacity="0.85"/>
<circle cx="114.62" cy="283.6" r="0.95" fill="#d99a1a" opacity="0.85"/>
<circle cx="106.89" cy="285.4" r="0.95" fill="#d99a1a" opacity="0.85"/>
<circle cx="110.89" cy="277.8" r="0.95" fill="#d99a1a" opacity="0.85"/>
<circle cx="116.37" cy="274.7" r="0.95" fill="#d99a1a" opacity="0.85"/>
<circle cx="115.14" cy="277.8" r="0.95" fill="#d99a1a" opacity="0.85"/>
<circle cx="107.27" cy="280.4" r="0.95" fill="#d99a1a" opacity="0.85"/>
<circle cx="109.28" cy="278.7" r="0.95" fill="#d99a1a" opacity="0.85"/>
<circle cx="108.32" cy="274.1" r="0.95" fill="#d99a1a" opacity="0.85"/>
<circle cx="107.01" cy="281.3" r="0.95" fill="#d99a1a" opacity="0.85"/>
<circle cx="111.33" cy="277.7" r="0.95" fill="#d99a1a" opacity="0.85"/>
<circle cx="108.16" cy="280.7" r="0.95" fill="#d99a1a" opacity="0.85"/>
<circle cx="109.53" cy="282.8" r="0.95" fill="#d99a1a" opacity="0.85"/>
<circle cx="113.99" cy="283.0" r="0.95" fill="#d99a1a" opacity="0.85"/>
<circle cx="108.92" cy="275.5" r="0.95" fill="#d99a1a" opacity="0.85"/>
<circle cx="114.50" cy="277.2" r="0.95" fill="#d99a1a" opacity="0.85"/>
<circle cx="110.92" cy="278.9" r="0.95" fill="#d99a1a" opacity="0.85"/>
<circle cx="109.42" cy="291.3" r="0.95" fill="#d99a1a" opacity="0.85"/>
<circle cx="110.61" cy="288.2" r="0.95" fill="#d99a1a" opacity="0.85"/>
<circle cx="107.57" cy="287.8" r="0.95" fill="#d99a1a" opacity="0.85"/>
<circle cx="113.47" cy="286.7" r="0.95" fill="#d99a1a" opacity="0.85"/>
<circle cx="115.25" cy="289.7" r="0.95" fill="#d99a1a" opacity="0.85"/>
<circle cx="110.14" cy="291.9" r="0.95" fill="#d99a1a" opacity="0.85"/>
<circle cx="116.35" cy="290.2" r="0.95" fill="#d99a1a" opacity="0.85"/>
<circle cx="114.06" cy="287.8" r="0.95" fill="#d99a1a" opacity="0.85"/>
<circle cx="116.72" cy="290.2" r="0.95" fill="#d99a1a" opacity="0.85"/>
<circle cx="109.51" cy="291.3" r="0.95" fill="#d99a1a" opacity="0.85"/>
<circle cx="108.06" cy="290.0" r="0.95" fill="#d99a1a" opacity="0.85"/>
<circle cx="111.09" cy="288.9" r="0.95" fill="#d99a1a" opacity="0.85"/>
<circle cx="111.00" cy="286.9" r="0.95" fill="#d99a1a" opacity="0.85"/>
<circle cx="112.13" cy="288.4" r="0.95" fill="#d99a1a" opacity="0.85"/>
<circle cx="108.75" cy="288.1" r="0.95" fill="#d99a1a" opacity="0.85"/>
<circle cx="111.92" cy="288.8" r="0.95" fill="#d99a1a" opacity="0.85"/>
<circle cx="112.99" cy="256.1" r="0.95" fill="#d99a1a" opacity="0.85"/>
<circle cx="110.13" cy="257.6" r="0.95" fill="#d99a1a" opacity="0.85"/>
<circle cx="111.78" cy="259.8" r="0.95" fill="#d99a1a" opacity="0.85"/>
<circle cx="112.58" cy="255.8" r="0.95" fill="#d99a1a" opacity="0.85"/>
<circle cx="112.43" cy="267.3" r="0.95" fill="#d99a1a" opacity="0.85"/>
<circle cx="109.78" cy="267.3" r="0.95" fill="#d99a1a" opacity="0.85"/>
<circle cx="111.49" cy="260.8" r="0.95" fill="#d99a1a" opacity="0.85"/>
<circle cx="111.69" cy="253.9" r="0.95" fill="#d99a1a" opacity="0.85"/>
<circle cx="112.14" cy="253.7" r="0.95" fill="#d99a1a" opacity="0.85"/>
<circle cx="112.01" cy="264.9" r="0.95" fill="#d99a1a" opacity="0.85"/>
<circle cx="110.93" cy="259.4" r="0.95" fill="#d99a1a" opacity="0.85"/>
<circle cx="111.40" cy="253.1" r="0.95" fill="#d99a1a" opacity="0.85"/>
<circle cx="115.66" cy="246.2" r="0.95" fill="#d99a1a" opacity="0.85"/>
<path d="M57.53636363636364,191.6 V189.5 H71.73636363636363 V191.6" fill="none" stroke="#666" stroke-width="0.8"/>
<text x="64.63636363636364" y="191.2" font-size="8.2" font-weight="bold" text-anchor="middle" fill="#111" stroke="none">****</text>
<path d="M97.76363636363637,191.6 V189.5 H111.96363636363635 V191.6" fill="none" stroke="#666" stroke-width="0.8"/>
<text x="104.86363636363636" y="191.2" font-size="8.2" font-weight="bold" text-anchor="middle" fill="#111" stroke="none">****</text>
<rect x="155.5" y="182.5" width="88.30000000000001" height="115.19999999999999" fill="#fff" stroke="#969696" stroke-width="1"/>
<text x="199.65" y="176.2" font-size="9.6" font-weight="bold" text-anchor="middle" fill="#000" stroke="#000" stroke-width="0.08">RBD</text>
<line x1="152.9" y1="212.4" x2="155.5" y2="212.4" stroke="#333" stroke-width="0.95"/>
<text x="151.9" y="214.5" font-size="6.1" font-weight="normal" text-anchor="end" fill="#333" stroke="#333" stroke-width="0.25">2000</text>
<line x1="152.9" y1="252.6" x2="155.5" y2="252.6" stroke="#333" stroke-width="0.95"/>
<text x="151.9" y="254.7" font-size="6.1" font-weight="normal" text-anchor="end" fill="#333" stroke="#333" stroke-width="0.25">1000</text>
<line x1="152.9" y1="293" x2="155.5" y2="293" stroke="#333" stroke-width="0.95"/>
<text x="151.9" y="295.1" font-size="6.1" font-weight="normal" text-anchor="end" fill="#333" stroke="#333" stroke-width="0.25">0</text>
<line x1="179.5818181818182" y1="297.7" x2="179.5818181818182" y2="300.09999999999997" stroke="#333" stroke-width="0.8"/>
<text x="179.5818181818182" y="306.3" font-size="6.2" font-weight="normal" text-anchor="middle" fill="#444" stroke="#444" stroke-width="0.05">IgG</text>
<line x1="219.71818181818185" y1="297.7" x2="219.71818181818185" y2="300.09999999999997" stroke="#333" stroke-width="0.8"/>
<text x="219.71818181818185" y="306.3" font-size="6.2" font-weight="normal" text-anchor="middle" fill="#444" stroke="#444" stroke-width="0.05">IgM</text>
<line x1="172.28181818181818" y1="291.5" x2="172.28181818181818" y2="292.5" stroke="#283593" stroke-width="0.7" opacity="0.8"/>
<rect x="165.38181818181818" y="291.6" width="13.8" height="0.6999999999999886" fill="#fff" fill-opacity="0.3" stroke="#283593" stroke-width="1"/>
<line x1="165.38181818181818" y1="292" x2="179.1818181818182" y2="292" stroke="#283593" stroke-width="1.3"/>
<circle cx="167.49" cy="291.9" r="0.95" fill="#283593" opacity="0.85"/>
<circle cx="169.88" cy="291.9" r="0.95" fill="#283593" opacity="0.85"/>
<circle cx="177.28" cy="291.9" r="0.95" fill="#283593" opacity="0.85"/>
<circle cx="174.43" cy="291.7" r="0.95" fill="#283593" opacity="0.85"/>
<circle cx="169.47" cy="292.2" r="0.95" fill="#283593" opacity="0.85"/>
<circle cx="168.24" cy="291.9" r="0.95" fill="#283593" opacity="0.85"/>
<circle cx="169.55" cy="292.6" r="0.95" fill="#283593" opacity="0.85"/>
<circle cx="170.54" cy="291.9" r="0.95" fill="#283593" opacity="0.85"/>
<circle cx="176.13" cy="292.4" r="0.95" fill="#283593" opacity="0.85"/>
<circle cx="172.79" cy="292.1" r="0.95" fill="#283593" opacity="0.85"/>
<circle cx="176.64" cy="291.4" r="0.95" fill="#283593" opacity="0.85"/>
<circle cx="170.78" cy="291.4" r="0.95" fill="#283593" opacity="0.85"/>
<circle cx="174.74" cy="291.8" r="0.95" fill="#283593" opacity="0.85"/>
<circle cx="170.56" cy="292.2" r="0.95" fill="#283593" opacity="0.85"/>
<circle cx="177.23" cy="292.6" r="0.95" fill="#283593" opacity="0.85"/>
<circle cx="173.74" cy="291.3" r="0.95" fill="#283593" opacity="0.85"/>
<circle cx="170.76" cy="292.0" r="0.95" fill="#283593" opacity="0.85"/>
<circle cx="170.26" cy="292.0" r="0.95" fill="#283593" opacity="0.85"/>
<circle cx="173.44" cy="292.2" r="0.95" fill="#283593" opacity="0.85"/>
<circle cx="177.52" cy="292.7" r="0.95" fill="#283593" opacity="0.85"/>
<line x1="186.8818181818182" y1="262" x2="186.8818181818182" y2="293.5" stroke="#d59b18" stroke-width="0.7" opacity="0.8"/>
<rect x="179.9818181818182" y="282.4" width="13.8" height="10.600000000000023" fill="#fff" fill-opacity="0.3" stroke="#d59b18" stroke-width="1"/>
<line x1="179.9818181818182" y1="289" x2="193.7818181818182" y2="289" stroke="#d59b18" stroke-width="1.3"/>
<circle cx="186.67" cy="290.6" r="0.95" fill="#d99a1a" opacity="0.85"/>
<circle cx="190.91" cy="284.1" r="0.95" fill="#d99a1a" opacity="0.85"/>
<circle cx="181.97" cy="291.6" r="0.95" fill="#d99a1a" opacity="0.85"/>
<circle cx="186.96" cy="285.1" r="0.95" fill="#d99a1a" opacity="0.85"/>
<circle cx="185.70" cy="290.8" r="0.95" fill="#d99a1a" opacity="0.85"/>
<circle cx="184.15" cy="290.0" r="0.95" fill="#d99a1a" opacity="0.85"/>
<circle cx="184.98" cy="290.0" r="0.95" fill="#d99a1a" opacity="0.85"/>
<circle cx="189.73" cy="285.9" r="0.95" fill="#d99a1a" opacity="0.85"/>
<circle cx="190.50" cy="291.3" r="0.95" fill="#d99a1a" opacity="0.85"/>
<circle cx="186.01" cy="288.4" r="0.95" fill="#d99a1a" opacity="0.85"/>
<circle cx="188.23" cy="289.9" r="0.95" fill="#d99a1a" opacity="0.85"/>
<circle cx="190.20" cy="291.2" r="0.95" fill="#d99a1a" opacity="0.85"/>
<circle cx="185.53" cy="283.7" r="0.95" fill="#d99a1a" opacity="0.85"/>
<circle cx="183.92" cy="289.5" r="0.95" fill="#d99a1a" opacity="0.85"/>
<circle cx="181.53" cy="284.4" r="0.95" fill="#d99a1a" opacity="0.85"/>
<circle cx="191.73" cy="288.6" r="0.95" fill="#d99a1a" opacity="0.85"/>
<circle cx="182.85" cy="292.7" r="0.95" fill="#d99a1a" opacity="0.85"/>
<circle cx="185.99" cy="289.7" r="0.95" fill="#d99a1a" opacity="0.85"/>
<circle cx="185.75" cy="289.1" r="0.95" fill="#d99a1a" opacity="0.85"/>
<circle cx="192.26" cy="292.3" r="0.95" fill="#d99a1a" opacity="0.85"/>
<circle cx="189.23" cy="282.9" r="0.95" fill="#d99a1a" opacity="0.85"/>
<circle cx="181.85" cy="283.7" r="0.95" fill="#d99a1a" opacity="0.85"/>
<circle cx="189.43" cy="285.4" r="0.95" fill="#d99a1a" opacity="0.85"/>
<circle cx="182.70" cy="292.9" r="0.95" fill="#d99a1a" opacity="0.85"/>
<circle cx="181.67" cy="285.9" r="0.95" fill="#d99a1a" opacity="0.85"/>
<circle cx="186.70" cy="288.2" r="0.95" fill="#d99a1a" opacity="0.85"/>
<circle cx="184.78" cy="286.4" r="0.95" fill="#d99a1a" opacity="0.85"/>
<circle cx="190.61" cy="290.9" r="0.95" fill="#d99a1a" opacity="0.85"/>
<circle cx="185.69" cy="285.4" r="0.95" fill="#d99a1a" opacity="0.85"/>
<circle cx="189.80" cy="288.9" r="0.95" fill="#d99a1a" opacity="0.85"/>
<circle cx="185.66" cy="292.8" r="0.95" fill="#d99a1a" opacity="0.85"/>
<circle cx="187.39" cy="289.8" r="0.95" fill="#d99a1a" opacity="0.85"/>
<circle cx="183.00" cy="290.9" r="0.95" fill="#d99a1a" opacity="0.85"/>
<circle cx="182.56" cy="284.3" r="0.95" fill="#d99a1a" opacity="0.85"/>
<circle cx="184.15" cy="292.3" r="0.95" fill="#d99a1a" opacity="0.85"/>
<circle cx="182.71" cy="287.6" r="0.95" fill="#d99a1a" opacity="0.85"/>
<circle cx="181.59" cy="285.8" r="0.95" fill="#d99a1a" opacity="0.85"/>
<circle cx="182.96" cy="288.4" r="0.95" fill="#d99a1a" opacity="0.85"/>
<circle cx="184.40" cy="289.0" r="0.95" fill="#d99a1a" opacity="0.85"/>
<circle cx="186.69" cy="284.8" r="0.95" fill="#d99a1a" opacity="0.85"/>
<circle cx="184.24" cy="286.3" r="0.95" fill="#d99a1a" opacity="0.85"/>
<circle cx="182.09" cy="282.9" r="0.95" fill="#d99a1a" opacity="0.85"/>
<circle cx="184.78" cy="291.9" r="0.95" fill="#d99a1a" opacity="0.85"/>
<circle cx="183.39" cy="283.2" r="0.95" fill="#d99a1a" opacity="0.85"/>
<circle cx="192.35" cy="287.5" r="0.95" fill="#d99a1a" opacity="0.85"/>
<circle cx="190.92" cy="284.5" r="0.95" fill="#d99a1a" opacity="0.85"/>
<circle cx="185.94" cy="287.5" r="0.95" fill="#d99a1a" opacity="0.85"/>
<circle cx="185.74" cy="291.0" r="0.95" fill="#d99a1a" opacity="0.85"/>
<circle cx="187.44" cy="283.0" r="0.95" fill="#d99a1a" opacity="0.85"/>
<circle cx="188.24" cy="289.4" r="0.95" fill="#d99a1a" opacity="0.85"/>
<circle cx="191.71" cy="285.3" r="0.95" fill="#d99a1a" opacity="0.85"/>
<circle cx="192.32" cy="291.6" r="0.95" fill="#d99a1a" opacity="0.85"/>
<circle cx="190.55" cy="287.1" r="0.95" fill="#d99a1a" opacity="0.85"/>
<circle cx="183.32" cy="290.1" r="0.95" fill="#d99a1a" opacity="0.85"/>
<circle cx="183.24" cy="282.7" r="0.95" fill="#d99a1a" opacity="0.85"/>
<circle cx="183.90" cy="264.4" r="0.95" fill="#d99a1a" opacity="0.85"/>
<circle cx="188.66" cy="269.3" r="0.95" fill="#d99a1a" opacity="0.85"/>
<circle cx="186.98" cy="268.3" r="0.95" fill="#d99a1a" opacity="0.85"/>
<circle cx="184.85" cy="262.2" r="0.95" fill="#d99a1a" opacity="0.85"/>
<circle cx="183.46" cy="281.6" r="0.95" fill="#d99a1a" opacity="0.85"/>
<circle cx="189.05" cy="272.8" r="0.95" fill="#d99a1a" opacity="0.85"/>
<circle cx="188.53" cy="278.2" r="0.95" fill="#d99a1a" opacity="0.85"/>
<circle cx="189.00" cy="270.1" r="0.95" fill="#d99a1a" opacity="0.85"/>
<circle cx="188.76" cy="278.9" r="0.95" fill="#d99a1a" opacity="0.85"/>
<circle cx="184.09" cy="282.1" r="0.95" fill="#d99a1a" opacity="0.85"/>
<circle cx="186.20" cy="281.4" r="0.95" fill="#d99a1a" opacity="0.85"/>
<circle cx="185.14" cy="276.4" r="0.95" fill="#d99a1a" opacity="0.85"/>
<circle cx="183.55" cy="280.6" r="0.95" fill="#d99a1a" opacity="0.85"/>
<circle cx="184.97" cy="273.8" r="0.95" fill="#d99a1a" opacity="0.85"/>
<circle cx="185.97" cy="269.9" r="0.95" fill="#d99a1a" opacity="0.85"/>
<circle cx="189.06" cy="275.4" r="0.95" fill="#d99a1a" opacity="0.85"/>
<circle cx="183.38" cy="202.6" r="0.95" fill="#d99a1a" opacity="0.85"/>
<circle cx="186.38" cy="214.0" r="0.95" fill="#d99a1a" opacity="0.85"/>
<circle cx="184.38" cy="216.0" r="0.95" fill="#d99a1a" opacity="0.85"/>
<circle cx="184.38" cy="226.0" r="0.95" fill="#d99a1a" opacity="0.85"/>
<circle cx="185.38" cy="229.0" r="0.95" fill="#d99a1a" opacity="0.85"/>
<circle cx="183.38" cy="236.0" r="0.95" fill="#d99a1a" opacity="0.85"/>
<circle cx="183.38" cy="241.0" r="0.95" fill="#d99a1a" opacity="0.85"/>
<circle cx="188.38" cy="248.0" r="0.95" fill="#d99a1a" opacity="0.85"/>
<circle cx="186.38" cy="250.0" r="0.95" fill="#d99a1a" opacity="0.85"/>
<circle cx="187.88" cy="257.0" r="0.95" fill="#d99a1a" opacity="0.85"/>
<circle cx="184.88" cy="260.0" r="0.95" fill="#d99a1a" opacity="0.85"/>
<line x1="212.41818181818184" y1="282" x2="212.41818181818184" y2="292.5" stroke="#283593" stroke-width="0.7" opacity="0.8"/>
<rect x="205.51818181818183" y="285" width="13.8" height="6" fill="#fff" fill-opacity="0.3" stroke="#283593" stroke-width="1"/>
<line x1="205.51818181818183" y1="288" x2="219.31818181818184" y2="288" stroke="#283593" stroke-width="1.3"/>
<circle cx="210.94" cy="286.1" r="0.95" fill="#283593" opacity="0.85"/>
<circle cx="210.65" cy="288.7" r="0.95" fill="#283593" opacity="0.85"/>
<circle cx="213.98" cy="288.4" r="0.95" fill="#283593" opacity="0.85"/>
<circle cx="209.44" cy="284.6" r="0.95" fill="#283593" opacity="0.85"/>
<circle cx="212.15" cy="289.2" r="0.95" fill="#283593" opacity="0.85"/>
<circle cx="209.35" cy="284.2" r="0.95" fill="#283593" opacity="0.85"/>
<circle cx="213.30" cy="291.5" r="0.95" fill="#283593" opacity="0.85"/>
<circle cx="209.99" cy="286.2" r="0.95" fill="#283593" opacity="0.85"/>
<circle cx="213.95" cy="292.0" r="0.95" fill="#283593" opacity="0.85"/>
<circle cx="211.30" cy="289.6" r="0.95" fill="#283593" opacity="0.85"/>
<circle cx="211.68" cy="285.8" r="0.95" fill="#283593" opacity="0.85"/>
<circle cx="213.47" cy="284.3" r="0.95" fill="#283593" opacity="0.85"/>
<circle cx="214.98" cy="286.8" r="0.95" fill="#283593" opacity="0.85"/>
<circle cx="212.07" cy="286.7" r="0.95" fill="#283593" opacity="0.85"/>
<circle cx="215.95" cy="287.6" r="0.95" fill="#283593" opacity="0.85"/>
<circle cx="214.05" cy="286.1" r="0.95" fill="#283593" opacity="0.85"/>
<circle cx="213.05" cy="285.1" r="0.95" fill="#283593" opacity="0.85"/>
<circle cx="215.40" cy="285.6" r="0.95" fill="#283593" opacity="0.85"/>
<circle cx="215.25" cy="285.6" r="0.95" fill="#283593" opacity="0.85"/>
<circle cx="212.06" cy="289.1" r="0.95" fill="#283593" opacity="0.85"/>
<circle cx="211.52" cy="291.4" r="0.95" fill="#283593" opacity="0.85"/>
<circle cx="213.23" cy="289.7" r="0.95" fill="#283593" opacity="0.85"/>
<circle cx="212.82" cy="269.0" r="0.95" fill="#283593" opacity="0.85"/>
<circle cx="210.82" cy="274.0" r="0.95" fill="#283593" opacity="0.85"/>
<circle cx="207.82" cy="279.0" r="0.95" fill="#283593" opacity="0.85"/>
<circle cx="211.82" cy="281.0" r="0.95" fill="#283593" opacity="0.85"/>
<line x1="227.01818181818186" y1="250" x2="227.01818181818186" y2="293.5" stroke="#d59b18" stroke-width="0.7" opacity="0.8"/>
<rect x="220.11818181818185" y="274" width="13.8" height="19" fill="#fff" fill-opacity="0.3" stroke="#d59b18" stroke-width="1"/>
<line x1="220.11818181818185" y1="281" x2="233.91818181818186" y2="281" stroke="#d59b18" stroke-width="1.3"/>
<circle cx="228.54" cy="280.9" r="0.95" fill="#d99a1a" opacity="0.85"/>
<circle cx="224.59" cy="280.7" r="0.95" fill="#d99a1a" opacity="0.85"/>
<circle cx="225.06" cy="291.2" r="0.95" fill="#d99a1a" opacity="0.85"/>
<circle cx="225.20" cy="275.8" r="0.95" fill="#d99a1a" opacity="0.85"/>
<circle cx="223.84" cy="288.1" r="0.95" fill="#d99a1a" opacity="0.85"/>
<circle cx="227.53" cy="288.1" r="0.95" fill="#d99a1a" opacity="0.85"/>
<circle cx="223.47" cy="286.9" r="0.95" fill="#d99a1a" opacity="0.85"/>
<circle cx="223.09" cy="276.0" r="0.95" fill="#d99a1a" opacity="0.85"/>
<circle cx="226.26" cy="280.7" r="0.95" fill="#d99a1a" opacity="0.85"/>
<circle cx="227.05" cy="274.2" r="0.95" fill="#d99a1a" opacity="0.85"/>
<circle cx="225.05" cy="281.7" r="0.95" fill="#d99a1a" opacity="0.85"/>
<circle cx="231.99" cy="284.2" r="0.95" fill="#d99a1a" opacity="0.85"/>
<circle cx="231.20" cy="277.9" r="0.95" fill="#d99a1a" opacity="0.85"/>
<circle cx="229.81" cy="280.1" r="0.95" fill="#d99a1a" opacity="0.85"/>
<circle cx="232.38" cy="276.1" r="0.95" fill="#d99a1a" opacity="0.85"/>
<circle cx="232.11" cy="282.2" r="0.95" fill="#d99a1a" opacity="0.85"/>
<circle cx="226.01" cy="278.2" r="0.95" fill="#d99a1a" opacity="0.85"/>
<circle cx="223.47" cy="287.4" r="0.95" fill="#d99a1a" opacity="0.85"/>
<circle cx="228.97" cy="279.2" r="0.95" fill="#d99a1a" opacity="0.85"/>
<circle cx="225.06" cy="292.0" r="0.95" fill="#d99a1a" opacity="0.85"/>
<circle cx="225.45" cy="277.5" r="0.95" fill="#d99a1a" opacity="0.85"/>
<circle cx="223.15" cy="292.8" r="0.95" fill="#d99a1a" opacity="0.85"/>
<circle cx="225.68" cy="286.1" r="0.95" fill="#d99a1a" opacity="0.85"/>
<circle cx="223.85" cy="286.2" r="0.95" fill="#d99a1a" opacity="0.85"/>
<circle cx="231.28" cy="285.7" r="0.95" fill="#d99a1a" opacity="0.85"/>
<circle cx="228.43" cy="290.3" r="0.95" fill="#d99a1a" opacity="0.85"/>
<circle cx="227.76" cy="283.6" r="0.95" fill="#d99a1a" opacity="0.85"/>
<circle cx="230.73" cy="276.2" r="0.95" fill="#d99a1a" opacity="0.85"/>
<circle cx="226.50" cy="287.1" r="0.95" fill="#d99a1a" opacity="0.85"/>
<circle cx="226.13" cy="286.6" r="0.95" fill="#d99a1a" opacity="0.85"/>
<circle cx="224.05" cy="281.3" r="0.95" fill="#d99a1a" opacity="0.85"/>
<circle cx="227.82" cy="285.4" r="0.95" fill="#d99a1a" opacity="0.85"/>
<circle cx="221.87" cy="283.8" r="0.95" fill="#d99a1a" opacity="0.85"/>
<circle cx="226.43" cy="285.9" r="0.95" fill="#d99a1a" opacity="0.85"/>
<circle cx="228.06" cy="285.3" r="0.95" fill="#d99a1a" opacity="0.85"/>
<circle cx="223.19" cy="291.7" r="0.95" fill="#d99a1a" opacity="0.85"/>
<circle cx="232.44" cy="282.9" r="0.95" fill="#d99a1a" opacity="0.85"/>
<circle cx="224.96" cy="288.0" r="0.95" fill="#d99a1a" opacity="0.85"/>
<circle cx="232.40" cy="288.0" r="0.95" fill="#d99a1a" opacity="0.85"/>
<circle cx="231.06" cy="281.6" r="0.95" fill="#d99a1a" opacity="0.85"/>
<circle cx="232.41" cy="276.4" r="0.95" fill="#d99a1a" opacity="0.85"/>
<circle cx="224.09" cy="283.3" r="0.95" fill="#d99a1a" opacity="0.85"/>
<circle cx="228.66" cy="290.0" r="0.95" fill="#d99a1a" opacity="0.85"/>
<circle cx="230.64" cy="291.8" r="0.95" fill="#d99a1a" opacity="0.85"/>
<circle cx="227.15" cy="289.2" r="0.95" fill="#d99a1a" opacity="0.85"/>
<circle cx="222.23" cy="292.9" r="0.95" fill="#d99a1a" opacity="0.85"/>
<circle cx="229.35" cy="290.5" r="0.95" fill="#d99a1a" opacity="0.85"/>
<circle cx="230.40" cy="278.8" r="0.95" fill="#d99a1a" opacity="0.85"/>
<circle cx="227.42" cy="282.6" r="0.95" fill="#d99a1a" opacity="0.85"/>
<circle cx="223.67" cy="290.4" r="0.95" fill="#d99a1a" opacity="0.85"/>
<circle cx="227.88" cy="256.7" r="0.95" fill="#d99a1a" opacity="0.85"/>
<circle cx="227.35" cy="251.8" r="0.95" fill="#d99a1a" opacity="0.85"/>
<circle cx="226.96" cy="268.9" r="0.95" fill="#d99a1a" opacity="0.85"/>
<circle cx="228.82" cy="255.8" r="0.95" fill="#d99a1a" opacity="0.85"/>
<circle cx="228.64" cy="270.5" r="0.95" fill="#d99a1a" opacity="0.85"/>
<circle cx="229.45" cy="263.2" r="0.95" fill="#d99a1a" opacity="0.85"/>
<circle cx="224.93" cy="269.1" r="0.95" fill="#d99a1a" opacity="0.85"/>
<circle cx="224.62" cy="258.8" r="0.95" fill="#d99a1a" opacity="0.85"/>
<circle cx="226.09" cy="250.9" r="0.95" fill="#d99a1a" opacity="0.85"/>
<circle cx="229.02" cy="270.8" r="0.95" fill="#d99a1a" opacity="0.85"/>
<circle cx="225.11" cy="252.8" r="0.95" fill="#d99a1a" opacity="0.85"/>
<circle cx="229.11" cy="259.3" r="0.95" fill="#d99a1a" opacity="0.85"/>
<circle cx="229.43" cy="264.8" r="0.95" fill="#d99a1a" opacity="0.85"/>
<circle cx="229.95" cy="251.7" r="0.95" fill="#d99a1a" opacity="0.85"/>
<circle cx="227.79" cy="255.0" r="0.95" fill="#d99a1a" opacity="0.85"/>
<circle cx="228.38" cy="271.0" r="0.95" fill="#d99a1a" opacity="0.85"/>
<circle cx="228.03" cy="254.7" r="0.95" fill="#d99a1a" opacity="0.85"/>
<circle cx="224.11" cy="260.3" r="0.95" fill="#d99a1a" opacity="0.85"/>
<circle cx="230.32" cy="217.0" r="0.95" fill="#d99a1a" opacity="0.85"/>
<circle cx="230.12" cy="220.0" r="0.95" fill="#d99a1a" opacity="0.85"/>
<circle cx="225.72" cy="229.0" r="0.95" fill="#d99a1a" opacity="0.85"/>
<circle cx="229.72" cy="230.6" r="0.95" fill="#d99a1a" opacity="0.85"/>
<circle cx="226.12" cy="233.0" r="0.95" fill="#d99a1a" opacity="0.85"/>
<circle cx="228.72" cy="238.0" r="0.95" fill="#d99a1a" opacity="0.85"/>
<circle cx="227.72" cy="240.0" r="0.95" fill="#d99a1a" opacity="0.85"/>
<circle cx="229.32" cy="242.0" r="0.95" fill="#d99a1a" opacity="0.85"/>
<circle cx="228.02" cy="246.0" r="0.95" fill="#d99a1a" opacity="0.85"/>
<circle cx="227.72" cy="250.6" r="0.95" fill="#d99a1a" opacity="0.85"/>
<circle cx="230.32" cy="251.0" r="0.95" fill="#d99a1a" opacity="0.85"/>
<path d="M172.4818181818182,191.6 V189.5 H186.6818181818182 V191.6" fill="none" stroke="#666" stroke-width="0.8"/>
<text x="179.5818181818182" y="191.2" font-size="8.2" font-weight="bold" text-anchor="middle" fill="#111" stroke="none">****</text>
<path d="M212.61818181818185,191.6 V189.5 H226.81818181818184 V191.6" fill="none" stroke="#666" stroke-width="0.8"/>
<text x="219.71818181818185" y="191.2" font-size="8.2" font-weight="bold" text-anchor="middle" fill="#111" stroke="none">**</text>
<rect x="266.5" y="182.2" width="89.0" height="115.5" fill="#fff" stroke="#404040" stroke-width="1.15"/>
<text x="311.0" y="176.2" font-size="9.6" font-weight="bold" text-anchor="middle" fill="#000" stroke="#000" stroke-width="0.08">S2</text>
<line x1="263.9" y1="191" x2="266.5" y2="191" stroke="#333" stroke-width="0.95"/>
<text x="262.9" y="193.1" font-size="6.1" font-weight="normal" text-anchor="end" fill="#333" stroke="#333" stroke-width="0.25">300</text>
<line x1="263.9" y1="225" x2="266.5" y2="225" stroke="#333" stroke-width="0.95"/>
<text x="262.9" y="227.1" font-size="6.1" font-weight="normal" text-anchor="end" fill="#333" stroke="#333" stroke-width="0.25">200</text>
<line x1="263.9" y1="259" x2="266.5" y2="259" stroke="#333" stroke-width="0.95"/>
<text x="262.9" y="261.1" font-size="6.1" font-weight="normal" text-anchor="end" fill="#333" stroke="#333" stroke-width="0.25">100</text>
<line x1="263.9" y1="293" x2="266.5" y2="293" stroke="#333" stroke-width="0.95"/>
<text x="262.9" y="295.1" font-size="6.1" font-weight="normal" text-anchor="end" fill="#333" stroke="#333" stroke-width="0.25">0</text>
<line x1="290.77272727272725" y1="297.7" x2="290.77272727272725" y2="300.09999999999997" stroke="#333" stroke-width="0.8"/>
<text x="290.77272727272725" y="306.3" font-size="6.2" font-weight="normal" text-anchor="middle" fill="#444" stroke="#444" stroke-width="0.05">IgG</text>
<line x1="331.22727272727275" y1="297.7" x2="331.22727272727275" y2="300.09999999999997" stroke="#333" stroke-width="0.8"/>
<text x="331.22727272727275" y="306.3" font-size="6.2" font-weight="normal" text-anchor="middle" fill="#444" stroke="#444" stroke-width="0.05">IgM</text>
<line x1="283.47272727272724" y1="272" x2="283.47272727272724" y2="291" stroke="#283593" stroke-width="0.7" opacity="0.8"/>
<rect x="276.57272727272726" y="280.5" width="13.8" height="7.899999999999977" fill="#fff" fill-opacity="0.3" stroke="#283593" stroke-width="1"/>
<line x1="276.57272727272726" y1="284.6" x2="290.3727272727272" y2="284.6" stroke="#283593" stroke-width="1.3"/>
<circle cx="282.63" cy="290.9" r="0.95" fill="#283593" opacity="0.85"/>
<circle cx="284.67" cy="288.8" r="0.95" fill="#283593" opacity="0.85"/>
<circle cx="287.45" cy="287.1" r="0.95" fill="#283593" opacity="0.85"/>
<circle cx="283.17" cy="278.9" r="0.95" fill="#283593" opacity="0.85"/>
<circle cx="284.72" cy="283.2" r="0.95" fill="#283593" opacity="0.85"/>
<circle cx="287.39" cy="280.8" r="0.95" fill="#283593" opacity="0.85"/>
<circle cx="282.43" cy="280.7" r="0.95" fill="#283593" opacity="0.85"/>
<circle cx="282.63" cy="279.9" r="0.95" fill="#283593" opacity="0.85"/>
<circle cx="280.14" cy="287.6" r="0.95" fill="#283593" opacity="0.85"/>
<circle cx="284.66" cy="280.2" r="0.95" fill="#283593" opacity="0.85"/>
<circle cx="285.41" cy="286.1" r="0.95" fill="#283593" opacity="0.85"/>
<circle cx="285.96" cy="281.3" r="0.95" fill="#283593" opacity="0.85"/>
<circle cx="285.68" cy="287.5" r="0.95" fill="#283593" opacity="0.85"/>
<circle cx="283.22" cy="279.6" r="0.95" fill="#283593" opacity="0.85"/>
<circle cx="286.35" cy="278.2" r="0.95" fill="#283593" opacity="0.85"/>
<circle cx="286.64" cy="290.3" r="0.95" fill="#283593" opacity="0.85"/>
<circle cx="282.28" cy="278.3" r="0.95" fill="#283593" opacity="0.85"/>
<circle cx="283.74" cy="285.0" r="0.95" fill="#283593" opacity="0.85"/>
<circle cx="285.79" cy="279.4" r="0.95" fill="#283593" opacity="0.85"/>
<circle cx="283.53" cy="281.9" r="0.95" fill="#283593" opacity="0.85"/>
<circle cx="284.02" cy="279.6" r="0.95" fill="#283593" opacity="0.85"/>
<circle cx="280.18" cy="279.7" r="0.95" fill="#283593" opacity="0.85"/>
<circle cx="281.82" cy="284.7" r="0.95" fill="#283593" opacity="0.85"/>
<circle cx="281.45" cy="288.1" r="0.95" fill="#283593" opacity="0.85"/>
<circle cx="285.47" cy="269.3" r="0.95" fill="#283593" opacity="0.85"/>
<circle cx="283.47" cy="269.5" r="0.95" fill="#283593" opacity="0.85"/>
<circle cx="287.47" cy="270.0" r="0.95" fill="#283593" opacity="0.85"/>
<circle cx="286.47" cy="249.0" r="0.95" fill="#283593" opacity="0.85"/>
<line x1="298.07272727272726" y1="227.5" x2="298.07272727272726" y2="293" stroke="#d59b18" stroke-width="0.7" opacity="0.8"/>
<rect x="291.1727272727273" y="255.3" width="13.8" height="17.399999999999977" fill="#fff" fill-opacity="0.3" stroke="#d59b18" stroke-width="1"/>
<line x1="291.1727272727273" y1="266.6" x2="304.97272727272724" y2="266.6" stroke="#d59b18" stroke-width="1.3"/>
<circle cx="293.17" cy="262.5" r="0.95" fill="#d99a1a" opacity="0.85"/>
<circle cx="297.54" cy="259.1" r="0.95" fill="#d99a1a" opacity="0.85"/>
<circle cx="297.63" cy="265.0" r="0.95" fill="#d99a1a" opacity="0.85"/>
<circle cx="293.72" cy="270.1" r="0.95" fill="#d99a1a" opacity="0.85"/>
<circle cx="294.28" cy="270.1" r="0.95" fill="#d99a1a" opacity="0.85"/>
<circle cx="298.35" cy="272.2" r="0.95" fill="#d99a1a" opacity="0.85"/>
<circle cx="299.31" cy="262.4" r="0.95" fill="#d99a1a" opacity="0.85"/>
<circle cx="303.17" cy="270.3" r="0.95" fill="#d99a1a" opacity="0.85"/>
<circle cx="292.69" cy="262.5" r="0.95" fill="#d99a1a" opacity="0.85"/>
<circle cx="301.58" cy="258.0" r="0.95" fill="#d99a1a" opacity="0.85"/>
<circle cx="300.41" cy="268.1" r="0.95" fill="#d99a1a" opacity="0.85"/>
<circle cx="298.41" cy="258.0" r="0.95" fill="#d99a1a" opacity="0.85"/>
<circle cx="293.79" cy="255.8" r="0.95" fill="#d99a1a" opacity="0.85"/>
<circle cx="303.20" cy="260.5" r="0.95" fill="#d99a1a" opacity="0.85"/>
<circle cx="301.90" cy="266.5" r="0.95" fill="#d99a1a" opacity="0.85"/>
<circle cx="297.15" cy="256.1" r="0.95" fill="#d99a1a" opacity="0.85"/>
<circle cx="295.44" cy="256.7" r="0.95" fill="#d99a1a" opacity="0.85"/>
<circle cx="302.68" cy="257.2" r="0.95" fill="#d99a1a" opacity="0.85"/>
<circle cx="297.95" cy="261.0" r="0.95" fill="#d99a1a" opacity="0.85"/>
<circle cx="302.33" cy="266.7" r="0.95" fill="#d99a1a" opacity="0.85"/>
<circle cx="298.82" cy="271.8" r="0.95" fill="#d99a1a" opacity="0.85"/>
<circle cx="302.52" cy="264.0" r="0.95" fill="#d99a1a" opacity="0.85"/>
<circle cx="295.87" cy="262.2" r="0.95" fill="#d99a1a" opacity="0.85"/>
<circle cx="295.41" cy="268.2" r="0.95" fill="#d99a1a" opacity="0.85"/>
<circle cx="297.29" cy="261.7" r="0.95" fill="#d99a1a" opacity="0.85"/>
<circle cx="296.52" cy="263.6" r="0.95" fill="#d99a1a" opacity="0.85"/>
<circle cx="297.53" cy="262.8" r="0.95" fill="#d99a1a" opacity="0.85"/>
<circle cx="301.76" cy="256.2" r="0.95" fill="#d99a1a" opacity="0.85"/>
<circle cx="298.38" cy="256.4" r="0.95" fill="#d99a1a" opacity="0.85"/>
<circle cx="296.97" cy="264.8" r="0.95" fill="#d99a1a" opacity="0.85"/>
<circle cx="293.66" cy="259.2" r="0.95" fill="#d99a1a" opacity="0.85"/>
<circle cx="296.03" cy="261.8" r="0.95" fill="#d99a1a" opacity="0.85"/>
<circle cx="295.11" cy="263.7" r="0.95" fill="#d99a1a" opacity="0.85"/>
<circle cx="297.93" cy="268.3" r="0.95" fill="#d99a1a" opacity="0.85"/>
<circle cx="297.05" cy="255.5" r="0.95" fill="#d99a1a" opacity="0.85"/>
<circle cx="292.65" cy="272.1" r="0.95" fill="#d99a1a" opacity="0.85"/>
<circle cx="303.14" cy="265.6" r="0.95" fill="#d99a1a" opacity="0.85"/>
<circle cx="299.15" cy="261.7" r="0.95" fill="#d99a1a" opacity="0.85"/>
<circle cx="295.89" cy="261.7" r="0.95" fill="#d99a1a" opacity="0.85"/>
<circle cx="299.06" cy="265.9" r="0.95" fill="#d99a1a" opacity="0.85"/>
<circle cx="298.05" cy="260.8" r="0.95" fill="#d99a1a" opacity="0.85"/>
<circle cx="300.86" cy="264.3" r="0.95" fill="#d99a1a" opacity="0.85"/>
<circle cx="293.59" cy="256.2" r="0.95" fill="#d99a1a" opacity="0.85"/>
<circle cx="295.54" cy="259.7" r="0.95" fill="#d99a1a" opacity="0.85"/>
<circle cx="297.25" cy="269.1" r="0.95" fill="#d99a1a" opacity="0.85"/>
<circle cx="297.29" cy="290.2" r="0.95" fill="#d99a1a" opacity="0.85"/>
<circle cx="299.51" cy="278.5" r="0.95" fill="#d99a1a" opacity="0.85"/>
<circle cx="301.95" cy="274.4" r="0.95" fill="#d99a1a" opacity="0.85"/>
<circle cx="296.70" cy="289.6" r="0.95" fill="#d99a1a" opacity="0.85"/>
<circle cx="300.63" cy="279.1" r="0.95" fill="#d99a1a" opacity="0.85"/>
<circle cx="299.21" cy="288.7" r="0.95" fill="#d99a1a" opacity="0.85"/>
<circle cx="300.18" cy="273.9" r="0.95" fill="#d99a1a" opacity="0.85"/>
<circle cx="299.07" cy="273.7" r="0.95" fill="#d99a1a" opacity="0.85"/>
<circle cx="301.49" cy="283.9" r="0.95" fill="#d99a1a" opacity="0.85"/>
<circle cx="294.25" cy="285.7" r="0.95" fill="#d99a1a" opacity="0.85"/>
<circle cx="300.09" cy="291.7" r="0.95" fill="#d99a1a" opacity="0.85"/>
<circle cx="294.12" cy="284.5" r="0.95" fill="#d99a1a" opacity="0.85"/>
<circle cx="297.42" cy="287.7" r="0.95" fill="#d99a1a" opacity="0.85"/>
<circle cx="301.94" cy="286.5" r="0.95" fill="#d99a1a" opacity="0.85"/>
<circle cx="294.67" cy="291.3" r="0.95" fill="#d99a1a" opacity="0.85"/>
<circle cx="297.60" cy="288.6" r="0.95" fill="#d99a1a" opacity="0.85"/>
<circle cx="297.10" cy="288.0" r="0.95" fill="#d99a1a" opacity="0.85"/>
<circle cx="297.57" cy="281.8" r="0.95" fill="#d99a1a" opacity="0.85"/>
<circle cx="296.63" cy="275.1" r="0.95" fill="#d99a1a" opacity="0.85"/>
<circle cx="294.64" cy="287.6" r="0.95" fill="#d99a1a" opacity="0.85"/>
<circle cx="300.08" cy="233.8" r="0.95" fill="#d99a1a" opacity="0.85"/>
<circle cx="298.36" cy="247.0" r="0.95" fill="#d99a1a" opacity="0.85"/>
<circle cx="295.78" cy="233.7" r="0.95" fill="#d99a1a" opacity="0.85"/>
<circle cx="300.80" cy="238.4" r="0.95" fill="#d99a1a" opacity="0.85"/>
<circle cx="300.61" cy="244.4" r="0.95" fill="#d99a1a" opacity="0.85"/>
<circle cx="297.56" cy="236.1" r="0.95" fill="#d99a1a" opacity="0.85"/>
<circle cx="300.11" cy="243.9" r="0.95" fill="#d99a1a" opacity="0.85"/>
<circle cx="300.31" cy="234.0" r="0.95" fill="#d99a1a" opacity="0.85"/>
<circle cx="295.26" cy="242.3" r="0.95" fill="#d99a1a" opacity="0.85"/>
<circle cx="297.34" cy="241.4" r="0.95" fill="#d99a1a" opacity="0.85"/>
<circle cx="300.64" cy="247.2" r="0.95" fill="#d99a1a" opacity="0.85"/>
<circle cx="299.21" cy="242.8" r="0.95" fill="#d99a1a" opacity="0.85"/>
<circle cx="297.07" cy="223.8" r="0.95" fill="#d99a1a" opacity="0.85"/>
<circle cx="301.57" cy="223.8" r="0.95" fill="#d99a1a" opacity="0.85"/>
<circle cx="296.07" cy="231.0" r="0.95" fill="#d99a1a" opacity="0.85"/>
<circle cx="298.07" cy="232.0" r="0.95" fill="#d99a1a" opacity="0.85"/>
<line x1="323.92727272727274" y1="268" x2="323.92727272727274" y2="289" stroke="#283593" stroke-width="0.7" opacity="0.8"/>
<rect x="317.02727272727276" y="277.2" width="13.8" height="6.699999999999989" fill="#fff" fill-opacity="0.3" stroke="#283593" stroke-width="1"/>
<line x1="317.02727272727276" y1="280.5" x2="330.8272727272727" y2="280.5" stroke="#283593" stroke-width="1.3"/>
<circle cx="325.88" cy="276.1" r="0.95" fill="#283593" opacity="0.85"/>
<circle cx="325.62" cy="270.2" r="0.95" fill="#283593" opacity="0.85"/>
<circle cx="324.53" cy="271.5" r="0.95" fill="#283593" opacity="0.85"/>
<circle cx="322.85" cy="272.2" r="0.95" fill="#283593" opacity="0.85"/>
<circle cx="322.88" cy="271.4" r="0.95" fill="#283593" opacity="0.85"/>
<circle cx="324.07" cy="280.4" r="0.95" fill="#283593" opacity="0.85"/>
<circle cx="324.45" cy="276.2" r="0.95" fill="#283593" opacity="0.85"/>
<circle cx="322.94" cy="285.7" r="0.95" fill="#283593" opacity="0.85"/>
<circle cx="323.79" cy="280.3" r="0.95" fill="#283593" opacity="0.85"/>
<circle cx="322.72" cy="288.6" r="0.95" fill="#283593" opacity="0.85"/>
<circle cx="322.06" cy="282.6" r="0.95" fill="#283593" opacity="0.85"/>
<circle cx="325.54" cy="273.5" r="0.95" fill="#283593" opacity="0.85"/>
<circle cx="322.23" cy="280.1" r="0.95" fill="#283593" opacity="0.85"/>
<circle cx="326.20" cy="269.3" r="0.95" fill="#283593" opacity="0.85"/>
<circle cx="325.44" cy="275.9" r="0.95" fill="#283593" opacity="0.85"/>
<circle cx="324.75" cy="277.1" r="0.95" fill="#283593" opacity="0.85"/>
<circle cx="327.26" cy="279.8" r="0.95" fill="#283593" opacity="0.85"/>
<circle cx="323.62" cy="287.1" r="0.95" fill="#283593" opacity="0.85"/>
<circle cx="322.05" cy="278.2" r="0.95" fill="#283593" opacity="0.85"/>
<circle cx="321.14" cy="283.8" r="0.95" fill="#283593" opacity="0.85"/>
<circle cx="326.93" cy="247.2" r="0.95" fill="#283593" opacity="0.85"/>
<circle cx="321.43" cy="259.8" r="0.95" fill="#283593" opacity="0.85"/>
<circle cx="325.43" cy="238.8" r="0.95" fill="#283593" opacity="0.85"/>
<line x1="338.52727272727276" y1="244.5" x2="338.52727272727276" y2="293" stroke="#d59b18" stroke-width="0.7" opacity="0.8"/>
<rect x="331.6272727272728" y="268.8" width="13.8" height="16.19999999999999" fill="#fff" fill-opacity="0.3" stroke="#d59b18" stroke-width="1"/>
<line x1="331.6272727272728" y1="277.2" x2="345.42727272727274" y2="277.2" stroke="#d59b18" stroke-width="1.3"/>
<circle cx="342.35" cy="273.8" r="0.95" fill="#d99a1a" opacity="0.85"/>
<circle cx="340.71" cy="269.4" r="0.95" fill="#d99a1a" opacity="0.85"/>
<circle cx="339.09" cy="278.0" r="0.95" fill="#d99a1a" opacity="0.85"/>
<circle cx="334.69" cy="274.2" r="0.95" fill="#d99a1a" opacity="0.85"/>
<circle cx="341.44" cy="284.2" r="0.95" fill="#d99a1a" opacity="0.85"/>
<circle cx="334.10" cy="281.9" r="0.95" fill="#d99a1a" opacity="0.85"/>
<circle cx="335.43" cy="281.5" r="0.95" fill="#d99a1a" opacity="0.85"/>
<circle cx="338.91" cy="272.0" r="0.95" fill="#d99a1a" opacity="0.85"/>
<circle cx="334.36" cy="278.7" r="0.95" fill="#d99a1a" opacity="0.85"/>
<circle cx="339.43" cy="281.2" r="0.95" fill="#d99a1a" opacity="0.85"/>
<circle cx="343.19" cy="283.4" r="0.95" fill="#d99a1a" opacity="0.85"/>
<circle cx="337.03" cy="280.0" r="0.95" fill="#d99a1a" opacity="0.85"/>
<circle cx="340.93" cy="284.2" r="0.95" fill="#d99a1a" opacity="0.85"/>
<circle cx="342.46" cy="273.5" r="0.95" fill="#d99a1a" opacity="0.85"/>
<circle cx="335.94" cy="280.6" r="0.95" fill="#d99a1a" opacity="0.85"/>
<circle cx="333.25" cy="272.8" r="0.95" fill="#d99a1a" opacity="0.85"/>
<circle cx="335.82" cy="277.5" r="0.95" fill="#d99a1a" opacity="0.85"/>
<circle cx="335.81" cy="273.5" r="0.95" fill="#d99a1a" opacity="0.85"/>
<circle cx="338.36" cy="270.9" r="0.95" fill="#d99a1a" opacity="0.85"/>
<circle cx="336.16" cy="273.2" r="0.95" fill="#d99a1a" opacity="0.85"/>
<circle cx="338.63" cy="273.3" r="0.95" fill="#d99a1a" opacity="0.85"/>
<circle cx="334.79" cy="283.0" r="0.95" fill="#d99a1a" opacity="0.85"/>
<circle cx="342.43" cy="282.7" r="0.95" fill="#d99a1a" opacity="0.85"/>
<circle cx="339.01" cy="278.7" r="0.95" fill="#d99a1a" opacity="0.85"/>
<circle cx="338.91" cy="280.7" r="0.95" fill="#d99a1a" opacity="0.85"/>
<circle cx="343.14" cy="279.5" r="0.95" fill="#d99a1a" opacity="0.85"/>
<circle cx="335.89" cy="281.4" r="0.95" fill="#d99a1a" opacity="0.85"/>
<circle cx="343.33" cy="269.7" r="0.95" fill="#d99a1a" opacity="0.85"/>
<circle cx="341.69" cy="274.7" r="0.95" fill="#d99a1a" opacity="0.85"/>
<circle cx="338.01" cy="272.6" r="0.95" fill="#d99a1a" opacity="0.85"/>
<circle cx="341.05" cy="274.8" r="0.95" fill="#d99a1a" opacity="0.85"/>
<circle cx="338.59" cy="284.1" r="0.95" fill="#d99a1a" opacity="0.85"/>
<circle cx="336.86" cy="278.0" r="0.95" fill="#d99a1a" opacity="0.85"/>
<circle cx="343.48" cy="272.6" r="0.95" fill="#d99a1a" opacity="0.85"/>
<circle cx="343.37" cy="270.6" r="0.95" fill="#d99a1a" opacity="0.85"/>
<circle cx="333.82" cy="279.4" r="0.95" fill="#d99a1a" opacity="0.85"/>
<circle cx="334.15" cy="283.4" r="0.95" fill="#d99a1a" opacity="0.85"/>
<circle cx="334.34" cy="278.0" r="0.95" fill="#d99a1a" opacity="0.85"/>
<circle cx="336.43" cy="284.8" r="0.95" fill="#d99a1a" opacity="0.85"/>
<circle cx="333.70" cy="282.9" r="0.95" fill="#d99a1a" opacity="0.85"/>
<circle cx="333.77" cy="279.6" r="0.95" fill="#d99a1a" opacity="0.85"/>
<circle cx="339.31" cy="269.3" r="0.95" fill="#d99a1a" opacity="0.85"/>
<circle cx="340.56" cy="284.7" r="0.95" fill="#d99a1a" opacity="0.85"/>
<circle cx="341.66" cy="282.7" r="0.95" fill="#d99a1a" opacity="0.85"/>
<circle cx="333.88" cy="277.2" r="0.95" fill="#d99a1a" opacity="0.85"/>
<circle cx="335.69" cy="289.2" r="0.95" fill="#d99a1a" opacity="0.85"/>
<circle cx="337.22" cy="289.2" r="0.95" fill="#d99a1a" opacity="0.85"/>
<circle cx="335.80" cy="289.0" r="0.95" fill="#d99a1a" opacity="0.85"/>
<circle cx="337.78" cy="290.6" r="0.95" fill="#d99a1a" opacity="0.85"/>
<circle cx="334.74" cy="288.9" r="0.95" fill="#d99a1a" opacity="0.85"/>
<circle cx="339.05" cy="288.9" r="0.95" fill="#d99a1a" opacity="0.85"/>
<circle cx="339.08" cy="292.8" r="0.95" fill="#d99a1a" opacity="0.85"/>
<circle cx="336.73" cy="286.1" r="0.95" fill="#d99a1a" opacity="0.85"/>
<circle cx="340.35" cy="287.7" r="0.95" fill="#d99a1a" opacity="0.85"/>
<circle cx="342.81" cy="292.5" r="0.95" fill="#d99a1a" opacity="0.85"/>
<circle cx="342.36" cy="292.6" r="0.95" fill="#d99a1a" opacity="0.85"/>
<circle cx="342.44" cy="291.9" r="0.95" fill="#d99a1a" opacity="0.85"/>
<circle cx="338.43" cy="285.2" r="0.95" fill="#d99a1a" opacity="0.85"/>
<circle cx="340.20" cy="289.7" r="0.95" fill="#d99a1a" opacity="0.85"/>
<circle cx="339.55" cy="289.9" r="0.95" fill="#d99a1a" opacity="0.85"/>
<circle cx="334.80" cy="292.5" r="0.95" fill="#d99a1a" opacity="0.85"/>
<circle cx="342.66" cy="289.2" r="0.95" fill="#d99a1a" opacity="0.85"/>
<circle cx="335.03" cy="285.3" r="0.95" fill="#d99a1a" opacity="0.85"/>
<circle cx="341.27" cy="265.6" r="0.95" fill="#d99a1a" opacity="0.85"/>
<circle cx="335.72" cy="245.1" r="0.95" fill="#d99a1a" opacity="0.85"/>
<circle cx="339.66" cy="264.7" r="0.95" fill="#d99a1a" opacity="0.85"/>
<circle cx="339.01" cy="257.1" r="0.95" fill="#d99a1a" opacity="0.85"/>
<circle cx="340.37" cy="262.9" r="0.95" fill="#d99a1a" opacity="0.85"/>
<circle cx="335.93" cy="244.5" r="0.95" fill="#d99a1a" opacity="0.85"/>
<circle cx="341.38" cy="263.8" r="0.95" fill="#d99a1a" opacity="0.85"/>
<circle cx="337.97" cy="264.8" r="0.95" fill="#d99a1a" opacity="0.85"/>
<circle cx="337.61" cy="252.7" r="0.95" fill="#d99a1a" opacity="0.85"/>
<circle cx="340.15" cy="244.9" r="0.95" fill="#d99a1a" opacity="0.85"/>
<circle cx="339.04" cy="250.9" r="0.95" fill="#d99a1a" opacity="0.85"/>
<circle cx="337.54" cy="257.3" r="0.95" fill="#d99a1a" opacity="0.85"/>
<circle cx="338.26" cy="260.9" r="0.95" fill="#d99a1a" opacity="0.85"/>
<circle cx="340.82" cy="250.2" r="0.95" fill="#d99a1a" opacity="0.85"/>
<circle cx="341.03" cy="203.0" r="0.95" fill="#d99a1a" opacity="0.85"/>
<circle cx="337.03" cy="211.3" r="0.95" fill="#d99a1a" opacity="0.85"/>
<circle cx="336.53" cy="215.0" r="0.95" fill="#d99a1a" opacity="0.85"/>
<circle cx="338.53" cy="221.3" r="0.95" fill="#d99a1a" opacity="0.85"/>
<circle cx="340.53" cy="229.5" r="0.95" fill="#d99a1a" opacity="0.85"/>
<circle cx="341.53" cy="235.8" r="0.95" fill="#d99a1a" opacity="0.85"/>
<circle cx="342.53" cy="242.5" r="0.95" fill="#d99a1a" opacity="0.85"/>
<path d="M283.67272727272723,191.6 V189.5 H297.8727272727273 V191.6" fill="none" stroke="#666" stroke-width="0.8"/>
<text x="290.77272727272725" y="191.2" font-size="8.2" font-weight="bold" text-anchor="middle" fill="#111" stroke="none">****</text>
<path d="M323.3272727272727,190.6 V188.6 H337.52727272727276 V190.6" fill="none" stroke="#666" stroke-width="0.8"/>
<text x="330.42727272727274" y="187.7" font-size="6.3" font-weight="normal" text-anchor="middle" fill="#222" stroke="#222" stroke-width="0.15">ns</text>
<text x="15.2" y="242.5" font-size="7.75" font-weight="bold" text-anchor="middle" fill="#000" stroke="#000" stroke-width="0.22" transform="rotate(-90 15.2 242.5)" >Fluorescence Intensity</text>
<text x="357" y="230.2" font-size="7.7" font-weight="bold" text-anchor="start" fill="#000" stroke="#000" stroke-width="0.22" >Group</text>
<rect x="358.6" y="238.4" width="9.8" height="6.8" fill="#fff" stroke="#283593" stroke-width="0.9"/>
<line x1="358.6" y1="241.8" x2="368.4" y2="241.8" stroke="#283593" stroke-width="0.9"/>
<line x1="363.5" y1="236.4" x2="363.5" y2="238.4" stroke="#283593" stroke-width="0.9"/>
<line x1="363.5" y1="245.20000000000002" x2="363.5" y2="247.20000000000002" stroke="#283593" stroke-width="0.9"/>
<text x="371.6" y="244.6" font-size="6.3" font-weight="normal" text-anchor="start" fill="#111" stroke="#111" stroke-width="0.1">Health</text>
<rect x="358.6" y="252.0" width="9.8" height="6.8" fill="#fff" stroke="#d59b18" stroke-width="0.9"/>
<line x1="358.6" y1="255.4" x2="368.4" y2="255.4" stroke="#d59b18" stroke-width="0.9"/>
<line x1="363.5" y1="250.0" x2="363.5" y2="252.0" stroke="#d59b18" stroke-width="0.9"/>
<line x1="363.5" y1="258.8" x2="363.5" y2="260.8" stroke="#d59b18" stroke-width="0.9"/>
<text x="371.6" y="258.2" font-size="6.3" font-weight="normal" text-anchor="start" fill="#111" stroke="#111" stroke-width="0.1">COVID-19</text>
</svg>
</body></html>
